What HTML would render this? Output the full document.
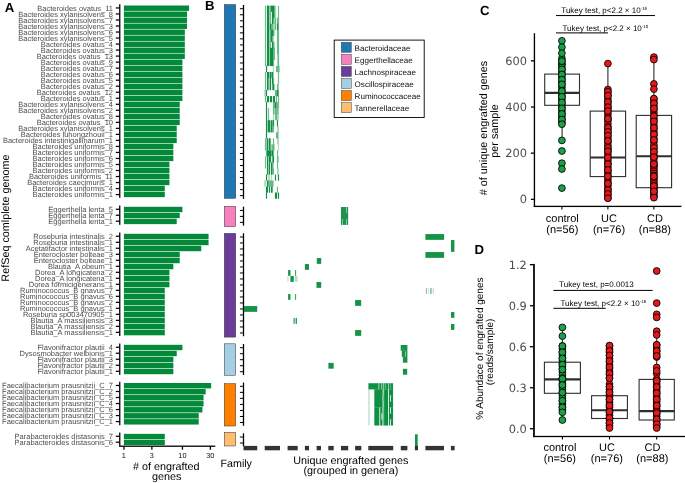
<!DOCTYPE html>
<html lang="en">
<head>
<meta charset="utf-8">
<title>Engrafted genes figure</title>
<style>
html,body{margin:0;padding:0;background:#fff;}
body{width:685px;height:483px;overflow:hidden;font-family:"Liberation Sans", Arial, Helvetica, sans-serif;}
svg{display:block;}
text{font-family:"Liberation Sans", Arial, Helvetica, sans-serif;text-rendering:geometricPrecision;}
</style>
</head>
<body>
<svg width="685" height="483" viewBox="0 0 685 483">
<rect x="0" y="0" width="685" height="483" fill="#ffffff"/>
<g font-family='"Liberation Sans", Arial, Helvetica, sans-serif'>
<rect x="119.1" y="4.20" width="1.3" height="193.66" fill="#000"/>
<rect x="123.9" y="5.50" width="65.17" height="5.41" fill="#02893a"/>
<rect x="115.8" y="7.33" width="3.6" height="1.25" fill="#000"/>
<text x="113.0" y="10.80" font-size="7.5" fill="#4d4d4d" text-anchor="end">Bacteroides ovatus_11</text>
<rect x="123.9" y="11.51" width="63.13" height="5.41" fill="#02893a"/>
<rect x="115.8" y="13.35" width="3.6" height="1.25" fill="#000"/>
<text x="113.0" y="16.81" font-size="7.5" fill="#4d4d4d" text-anchor="end">Bacteroides xylanisolvens_8</text>
<rect x="123.9" y="17.52" width="63.13" height="5.41" fill="#02893a"/>
<rect x="115.8" y="19.37" width="3.6" height="1.25" fill="#000"/>
<text x="113.0" y="22.82" font-size="7.5" fill="#4d4d4d" text-anchor="end">Bacteroides xylanisolvens_7</text>
<rect x="123.9" y="23.52" width="63.13" height="5.41" fill="#02893a"/>
<rect x="115.8" y="25.39" width="3.6" height="1.25" fill="#000"/>
<text x="113.0" y="28.83" font-size="7.5" fill="#4d4d4d" text-anchor="end">Bacteroides xylanisolvens_3</text>
<rect x="123.9" y="29.53" width="60.92" height="5.41" fill="#02893a"/>
<rect x="115.8" y="31.41" width="3.6" height="1.25" fill="#000"/>
<text x="113.0" y="34.84" font-size="7.5" fill="#4d4d4d" text-anchor="end">Bacteroides xylanisolvens_6</text>
<rect x="123.9" y="35.54" width="60.92" height="5.41" fill="#02893a"/>
<rect x="115.8" y="37.43" width="3.6" height="1.25" fill="#000"/>
<text x="113.0" y="40.84" font-size="7.5" fill="#4d4d4d" text-anchor="end">Bacteroides xylanisolvens_5</text>
<rect x="123.9" y="41.55" width="60.92" height="5.41" fill="#02893a"/>
<rect x="115.8" y="43.45" width="3.6" height="1.25" fill="#000"/>
<text x="113.0" y="46.85" font-size="7.5" fill="#4d4d4d" text-anchor="end">Bacteroides ovatus_4</text>
<rect x="123.9" y="47.56" width="60.92" height="5.41" fill="#02893a"/>
<rect x="115.8" y="49.47" width="3.6" height="1.25" fill="#000"/>
<text x="113.0" y="52.86" font-size="7.5" fill="#4d4d4d" text-anchor="end">Bacteroides ovatus_3</text>
<rect x="123.9" y="53.56" width="60.92" height="5.41" fill="#02893a"/>
<rect x="115.8" y="55.49" width="3.6" height="1.25" fill="#000"/>
<text x="113.0" y="58.87" font-size="7.5" fill="#4d4d4d" text-anchor="end">Bacteroides ovatus_13</text>
<rect x="123.9" y="59.57" width="58.50" height="5.41" fill="#02893a"/>
<rect x="115.8" y="61.51" width="3.6" height="1.25" fill="#000"/>
<text x="113.0" y="64.88" font-size="7.5" fill="#4d4d4d" text-anchor="end">Bacteroides ovatus_9</text>
<rect x="123.9" y="65.58" width="58.50" height="5.41" fill="#02893a"/>
<rect x="115.8" y="67.53" width="3.6" height="1.25" fill="#000"/>
<text x="113.0" y="70.88" font-size="7.5" fill="#4d4d4d" text-anchor="end">Bacteroides ovatus_7</text>
<rect x="123.9" y="71.59" width="58.50" height="5.41" fill="#02893a"/>
<rect x="115.8" y="73.55" width="3.6" height="1.25" fill="#000"/>
<text x="113.0" y="76.89" font-size="7.5" fill="#4d4d4d" text-anchor="end">Bacteroides ovatus_6</text>
<rect x="123.9" y="77.60" width="58.50" height="5.41" fill="#02893a"/>
<rect x="115.8" y="79.57" width="3.6" height="1.25" fill="#000"/>
<text x="113.0" y="82.90" font-size="7.5" fill="#4d4d4d" text-anchor="end">Bacteroides ovatus_5</text>
<rect x="123.9" y="83.60" width="58.50" height="5.41" fill="#02893a"/>
<rect x="115.8" y="85.59" width="3.6" height="1.25" fill="#000"/>
<text x="113.0" y="88.91" font-size="7.5" fill="#4d4d4d" text-anchor="end">Bacteroides ovatus_2</text>
<rect x="123.9" y="89.61" width="58.50" height="5.41" fill="#02893a"/>
<rect x="115.8" y="91.61" width="3.6" height="1.25" fill="#000"/>
<text x="113.0" y="94.92" font-size="7.5" fill="#4d4d4d" text-anchor="end">Bacteroides ovatus_12</text>
<rect x="123.9" y="95.62" width="58.50" height="5.41" fill="#02893a"/>
<rect x="115.8" y="97.63" width="3.6" height="1.25" fill="#000"/>
<text x="113.0" y="100.92" font-size="7.5" fill="#4d4d4d" text-anchor="end">Bacteroides ovatus_1</text>
<rect x="123.9" y="101.63" width="55.82" height="5.41" fill="#02893a"/>
<rect x="115.8" y="103.65" width="3.6" height="1.25" fill="#000"/>
<text x="113.0" y="106.93" font-size="7.5" fill="#4d4d4d" text-anchor="end">Bacteroides xylanisolvens_4</text>
<rect x="123.9" y="107.64" width="55.82" height="5.41" fill="#02893a"/>
<rect x="115.8" y="109.67" width="3.6" height="1.25" fill="#000"/>
<text x="113.0" y="112.94" font-size="7.5" fill="#4d4d4d" text-anchor="end">Bacteroides xylanisolvens_2</text>
<rect x="123.9" y="113.64" width="55.82" height="5.41" fill="#02893a"/>
<rect x="115.8" y="115.69" width="3.6" height="1.25" fill="#000"/>
<text x="113.0" y="118.95" font-size="7.5" fill="#4d4d4d" text-anchor="end">Bacteroides ovatus_8</text>
<rect x="123.9" y="119.65" width="55.82" height="5.41" fill="#02893a"/>
<rect x="115.8" y="121.71" width="3.6" height="1.25" fill="#000"/>
<text x="113.0" y="124.96" font-size="7.5" fill="#4d4d4d" text-anchor="end">Bacteroides ovatus_10</text>
<rect x="123.9" y="125.66" width="52.83" height="5.41" fill="#02893a"/>
<rect x="115.8" y="127.73" width="3.6" height="1.25" fill="#000"/>
<text x="113.0" y="130.96" font-size="7.5" fill="#4d4d4d" text-anchor="end">Bacteroides xylanisolvens_1</text>
<rect x="123.9" y="131.67" width="52.83" height="5.41" fill="#02893a"/>
<rect x="115.8" y="133.75" width="3.6" height="1.25" fill="#000"/>
<text x="113.0" y="136.97" font-size="7.5" fill="#4d4d4d" text-anchor="end">Bacteroides luhongzhouii_1</text>
<rect x="123.9" y="137.68" width="52.83" height="5.41" fill="#02893a"/>
<rect x="115.8" y="139.77" width="3.6" height="1.25" fill="#000"/>
<text x="113.0" y="142.98" font-size="7.5" fill="#4d4d4d" text-anchor="end">Bacteroides intestinigallinarum_1</text>
<rect x="123.9" y="143.68" width="49.44" height="5.41" fill="#02893a"/>
<rect x="115.8" y="145.79" width="3.6" height="1.25" fill="#000"/>
<text x="113.0" y="148.99" font-size="7.5" fill="#4d4d4d" text-anchor="end">Bacteroides uniformis_8</text>
<rect x="123.9" y="149.69" width="49.44" height="5.41" fill="#02893a"/>
<rect x="115.8" y="151.81" width="3.6" height="1.25" fill="#000"/>
<text x="113.0" y="155.00" font-size="7.5" fill="#4d4d4d" text-anchor="end">Bacteroides uniformis_7</text>
<rect x="123.9" y="155.70" width="49.44" height="5.41" fill="#02893a"/>
<rect x="115.8" y="157.83" width="3.6" height="1.25" fill="#000"/>
<text x="113.0" y="161.00" font-size="7.5" fill="#4d4d4d" text-anchor="end">Bacteroides uniformis_6</text>
<rect x="123.9" y="161.71" width="45.52" height="5.41" fill="#02893a"/>
<rect x="115.8" y="163.85" width="3.6" height="1.25" fill="#000"/>
<text x="113.0" y="167.01" font-size="7.5" fill="#4d4d4d" text-anchor="end">Bacteroides uniformis_5</text>
<rect x="123.9" y="167.72" width="45.52" height="5.41" fill="#02893a"/>
<rect x="115.8" y="169.87" width="3.6" height="1.25" fill="#000"/>
<text x="113.0" y="173.02" font-size="7.5" fill="#4d4d4d" text-anchor="end">Bacteroides uniformis_2</text>
<rect x="123.9" y="173.72" width="45.52" height="5.41" fill="#02893a"/>
<rect x="115.8" y="175.89" width="3.6" height="1.25" fill="#000"/>
<text x="113.0" y="179.03" font-size="7.5" fill="#4d4d4d" text-anchor="end">Bacteroides uniformis_11</text>
<rect x="123.9" y="179.73" width="45.52" height="5.41" fill="#02893a"/>
<rect x="115.8" y="181.91" width="3.6" height="1.25" fill="#000"/>
<text x="113.0" y="185.04" font-size="7.5" fill="#4d4d4d" text-anchor="end">Bacteroides caecimuris_1</text>
<rect x="123.9" y="185.74" width="40.89" height="5.41" fill="#02893a"/>
<rect x="115.8" y="187.93" width="3.6" height="1.25" fill="#000"/>
<text x="113.0" y="191.04" font-size="7.5" fill="#4d4d4d" text-anchor="end">Bacteroides uniformis_4</text>
<rect x="123.9" y="191.75" width="40.89" height="5.41" fill="#02893a"/>
<rect x="115.8" y="193.95" width="3.6" height="1.25" fill="#000"/>
<text x="113.0" y="197.05" font-size="7.5" fill="#4d4d4d" text-anchor="end">Bacteroides uniformis_1</text>
<rect x="119.1" y="205.50" width="1.3" height="19.34" fill="#000"/>
<rect x="123.9" y="206.80" width="58.50" height="5.38" fill="#02893a"/>
<rect x="115.8" y="208.62" width="3.6" height="1.25" fill="#000"/>
<text x="113.0" y="212.09" font-size="7.5" fill="#4d4d4d" text-anchor="end">Eggerthella lenta_5</text>
<rect x="123.9" y="212.78" width="55.82" height="5.38" fill="#02893a"/>
<rect x="115.8" y="214.60" width="3.6" height="1.25" fill="#000"/>
<text x="113.0" y="218.07" font-size="7.5" fill="#4d4d4d" text-anchor="end">Eggerthella lenta_7</text>
<rect x="123.9" y="218.76" width="52.83" height="5.38" fill="#02893a"/>
<rect x="115.8" y="220.58" width="3.6" height="1.25" fill="#000"/>
<text x="113.0" y="224.05" font-size="7.5" fill="#4d4d4d" text-anchor="end">Eggerthella lenta_1</text>
<rect x="119.1" y="232.50" width="1.3" height="103.50" fill="#000"/>
<rect x="123.9" y="233.80" width="84.66" height="5.41" fill="#02893a"/>
<rect x="115.8" y="235.63" width="3.6" height="1.25" fill="#000"/>
<text x="113.0" y="239.10" font-size="7.5" fill="#4d4d4d" text-anchor="end">Roseburia intestinalis_2</text>
<rect x="123.9" y="239.81" width="84.66" height="5.41" fill="#02893a"/>
<rect x="115.8" y="241.64" width="3.6" height="1.25" fill="#000"/>
<text x="113.0" y="245.11" font-size="7.5" fill="#4d4d4d" text-anchor="end">Roseburia intestinalis_1</text>
<rect x="123.9" y="245.81" width="77.35" height="5.41" fill="#02893a"/>
<rect x="115.8" y="247.64" width="3.6" height="1.25" fill="#000"/>
<text x="113.0" y="251.11" font-size="7.5" fill="#4d4d4d" text-anchor="end">Acetatifactor intestinalis_1</text>
<rect x="123.9" y="251.82" width="55.82" height="5.41" fill="#02893a"/>
<rect x="115.8" y="253.65" width="3.6" height="1.25" fill="#000"/>
<text x="113.0" y="257.12" font-size="7.5" fill="#4d4d4d" text-anchor="end">Enterocloster bolteae_3</text>
<rect x="123.9" y="257.82" width="55.82" height="5.41" fill="#02893a"/>
<rect x="115.8" y="259.66" width="3.6" height="1.25" fill="#000"/>
<text x="113.0" y="263.13" font-size="7.5" fill="#4d4d4d" text-anchor="end">Enterocloster bolteae_1</text>
<rect x="123.9" y="263.83" width="49.44" height="5.41" fill="#02893a"/>
<rect x="115.8" y="265.66" width="3.6" height="1.25" fill="#000"/>
<text x="113.0" y="269.13" font-size="7.5" fill="#4d4d4d" text-anchor="end">Blautia_A obeum_1</text>
<rect x="123.9" y="269.84" width="45.52" height="5.41" fill="#02893a"/>
<rect x="115.8" y="271.67" width="3.6" height="1.25" fill="#000"/>
<text x="113.0" y="275.14" font-size="7.5" fill="#4d4d4d" text-anchor="end">Dorea_A longicatena_2</text>
<rect x="123.9" y="275.84" width="45.52" height="5.41" fill="#02893a"/>
<rect x="115.8" y="277.68" width="3.6" height="1.25" fill="#000"/>
<text x="113.0" y="281.15" font-size="7.5" fill="#4d4d4d" text-anchor="end">Dorea_A longicatena_1</text>
<rect x="123.9" y="281.85" width="45.52" height="5.41" fill="#02893a"/>
<rect x="115.8" y="283.68" width="3.6" height="1.25" fill="#000"/>
<text x="113.0" y="287.15" font-size="7.5" fill="#4d4d4d" text-anchor="end">Dorea formicigenerans_1</text>
<rect x="123.9" y="287.85" width="40.89" height="5.41" fill="#02893a"/>
<rect x="115.8" y="289.69" width="3.6" height="1.25" fill="#000"/>
<text x="113.0" y="293.16" font-size="7.5" fill="#4d4d4d" text-anchor="end">Ruminococcus_B gnavus_7</text>
<rect x="123.9" y="293.86" width="40.89" height="5.41" fill="#02893a"/>
<rect x="115.8" y="295.69" width="3.6" height="1.25" fill="#000"/>
<text x="113.0" y="299.16" font-size="7.5" fill="#4d4d4d" text-anchor="end">Ruminococcus_B gnavus_6</text>
<rect x="123.9" y="299.87" width="40.89" height="5.41" fill="#02893a"/>
<rect x="115.8" y="301.70" width="3.6" height="1.25" fill="#000"/>
<text x="113.0" y="305.17" font-size="7.5" fill="#4d4d4d" text-anchor="end">Ruminococcus_B gnavus_2</text>
<rect x="123.9" y="305.87" width="40.89" height="5.41" fill="#02893a"/>
<rect x="115.8" y="307.70" width="3.6" height="1.25" fill="#000"/>
<text x="113.0" y="311.18" font-size="7.5" fill="#4d4d4d" text-anchor="end">Ruminococcus_B gnavus_1</text>
<rect x="123.9" y="311.88" width="40.89" height="5.41" fill="#02893a"/>
<rect x="115.8" y="313.71" width="3.6" height="1.25" fill="#000"/>
<text x="113.0" y="317.18" font-size="7.5" fill="#4d4d4d" text-anchor="end">Roseburia sp003470905_1</text>
<rect x="123.9" y="317.88" width="40.89" height="5.41" fill="#02893a"/>
<rect x="115.8" y="319.72" width="3.6" height="1.25" fill="#000"/>
<text x="113.0" y="323.19" font-size="7.5" fill="#4d4d4d" text-anchor="end">Blautia_A massiliensis_3</text>
<rect x="123.9" y="323.89" width="40.89" height="5.41" fill="#02893a"/>
<rect x="115.8" y="325.72" width="3.6" height="1.25" fill="#000"/>
<text x="113.0" y="329.19" font-size="7.5" fill="#4d4d4d" text-anchor="end">Blautia_A massiliensis_2</text>
<rect x="123.9" y="329.90" width="40.89" height="5.41" fill="#02893a"/>
<rect x="115.8" y="331.73" width="3.6" height="1.25" fill="#000"/>
<text x="113.0" y="335.20" font-size="7.5" fill="#4d4d4d" text-anchor="end">Blautia_A massiliensis_1</text>
<rect x="119.1" y="343.50" width="1.3" height="31.40" fill="#000"/>
<rect x="123.9" y="344.80" width="58.50" height="5.40" fill="#02893a"/>
<rect x="115.8" y="346.63" width="3.6" height="1.25" fill="#000"/>
<text x="113.0" y="350.10" font-size="7.5" fill="#4d4d4d" text-anchor="end">Flavonifractor plautii_4</text>
<rect x="123.9" y="350.80" width="52.83" height="5.40" fill="#02893a"/>
<rect x="115.8" y="352.63" width="3.6" height="1.25" fill="#000"/>
<text x="113.0" y="356.10" font-size="7.5" fill="#4d4d4d" text-anchor="end">Dysosmobacter welbionis_1</text>
<rect x="123.9" y="356.80" width="49.44" height="5.40" fill="#02893a"/>
<rect x="115.8" y="358.63" width="3.6" height="1.25" fill="#000"/>
<text x="113.0" y="362.10" font-size="7.5" fill="#4d4d4d" text-anchor="end">Flavonifractor plautii_3</text>
<rect x="123.9" y="362.80" width="49.44" height="5.40" fill="#02893a"/>
<rect x="115.8" y="364.63" width="3.6" height="1.25" fill="#000"/>
<text x="113.0" y="368.10" font-size="7.5" fill="#4d4d4d" text-anchor="end">Flavonifractor plautii_2</text>
<rect x="123.9" y="368.80" width="49.44" height="5.40" fill="#02893a"/>
<rect x="115.8" y="370.63" width="3.6" height="1.25" fill="#000"/>
<text x="113.0" y="374.10" font-size="7.5" fill="#4d4d4d" text-anchor="end">Flavonifractor plautii_1</text>
<rect x="119.1" y="381.70" width="1.3" height="43.54" fill="#000"/>
<rect x="123.9" y="383.00" width="87.24" height="5.42" fill="#02893a"/>
<rect x="115.8" y="384.84" width="3.6" height="1.25" fill="#000"/>
<text x="113.0" y="388.31" font-size="7.5" fill="#4d4d4d" text-anchor="end">Faecalibacterium prausnitzii_C_7</text>
<rect x="123.9" y="389.02" width="81.78" height="5.42" fill="#02893a"/>
<rect x="115.8" y="390.86" width="3.6" height="1.25" fill="#000"/>
<text x="113.0" y="394.33" font-size="7.5" fill="#4d4d4d" text-anchor="end">Faecalibacterium prausnitzii_C_2</text>
<rect x="123.9" y="395.04" width="79.66" height="5.42" fill="#02893a"/>
<rect x="115.8" y="396.88" width="3.6" height="1.25" fill="#000"/>
<text x="113.0" y="400.35" font-size="7.5" fill="#4d4d4d" text-anchor="end">Faecalibacterium prausnitzii_C_5</text>
<rect x="123.9" y="401.06" width="79.66" height="5.42" fill="#02893a"/>
<rect x="115.8" y="402.90" width="3.6" height="1.25" fill="#000"/>
<text x="113.0" y="406.37" font-size="7.5" fill="#4d4d4d" text-anchor="end">Faecalibacterium prausnitzii_C_4</text>
<rect x="123.9" y="407.08" width="78.53" height="5.42" fill="#02893a"/>
<rect x="115.8" y="408.92" width="3.6" height="1.25" fill="#000"/>
<text x="113.0" y="412.39" font-size="7.5" fill="#4d4d4d" text-anchor="end">Faecalibacterium prausnitzii_C_6</text>
<rect x="123.9" y="413.10" width="74.81" height="5.42" fill="#02893a"/>
<rect x="115.8" y="414.94" width="3.6" height="1.25" fill="#000"/>
<text x="113.0" y="418.41" font-size="7.5" fill="#4d4d4d" text-anchor="end">Faecalibacterium prausnitzii_C_3</text>
<rect x="123.9" y="419.12" width="74.81" height="5.42" fill="#02893a"/>
<rect x="115.8" y="420.96" width="3.6" height="1.25" fill="#000"/>
<text x="113.0" y="424.43" font-size="7.5" fill="#4d4d4d" text-anchor="end">Faecalibacterium prausnitzii_C_1</text>
<rect x="119.1" y="432.55" width="1.3" height="13.26" fill="#000"/>
<rect x="123.9" y="433.85" width="40.89" height="5.33" fill="#02893a"/>
<rect x="115.8" y="435.64" width="3.6" height="1.25" fill="#000"/>
<text x="113.0" y="439.12" font-size="7.5" fill="#4d4d4d" text-anchor="end">Parabacteroides distasonis_7</text>
<rect x="123.9" y="439.78" width="40.89" height="5.33" fill="#02893a"/>
<rect x="115.8" y="441.57" width="3.6" height="1.25" fill="#000"/>
<text x="113.0" y="445.05" font-size="7.5" fill="#4d4d4d" text-anchor="end">Parabacteroides distasonis_6</text>
<rect x="119.1" y="445.55" width="96.2" height="1.3" fill="#000"/>
<rect x="123.30" y="446.2" width="1.3" height="3.5" fill="#000"/>
<text x="123.90" y="458.4" font-size="7.3" fill="#111" text-anchor="middle">1</text>
<rect x="151.21" y="446.2" width="1.3" height="3.5" fill="#000"/>
<text x="151.81" y="458.4" font-size="7.3" fill="#111" text-anchor="middle">3</text>
<rect x="181.80" y="446.2" width="1.3" height="3.5" fill="#000"/>
<text x="182.40" y="458.4" font-size="7.3" fill="#111" text-anchor="middle">10</text>
<rect x="209.71" y="446.2" width="1.3" height="3.5" fill="#000"/>
<text x="210.31" y="458.4" font-size="7.3" fill="#111" text-anchor="middle">30</text>
<text x="166.3" y="470.4" font-size="10.8" fill="#000" text-anchor="middle"># of engrafted</text>
<text x="166.7" y="480.1" font-size="10.8" fill="#000" text-anchor="middle">genes</text>
<text transform="translate(9.1,218) rotate(-90)" font-size="10.8" fill="#000" text-anchor="middle">RefSeq comlplete genome</text>
<text x="4.8" y="12.0" font-size="13.2" font-weight="bold" fill="#000">A</text>
<text x="205.0" y="9.9" font-size="13.2" font-weight="bold" fill="#000">B</text>
<rect x="224.3" y="4.60" width="11.4" height="193.70" fill="#1f78b4" stroke="#333" stroke-width="0.5"/>
<rect x="224.3" y="206.40" width="11.4" height="20.20" fill="#f781bf" stroke="#333" stroke-width="0.5"/>
<rect x="224.3" y="233.40" width="11.4" height="103.70" fill="#6a3d9a" stroke="#333" stroke-width="0.5"/>
<rect x="224.3" y="343.80" width="11.4" height="31.50" fill="#a6cee3" stroke="#333" stroke-width="0.5"/>
<rect x="224.3" y="383.70" width="11.4" height="42.30" fill="#ff7f00" stroke="#333" stroke-width="0.5"/>
<rect x="224.3" y="432.30" width="11.4" height="13.70" fill="#fdbf6f" stroke="#333" stroke-width="0.5"/>
<text x="220.5" y="467.4" font-size="10.7" fill="#000">Family</text>
<rect x="242.85" y="5.00" width="1.3" height="193.96" fill="#000"/>
<rect x="239.9" y="8.21" width="3.1" height="1.0" fill="#000"/>
<rect x="239.9" y="14.25" width="3.1" height="1.0" fill="#000"/>
<rect x="239.9" y="20.28" width="3.1" height="1.0" fill="#000"/>
<rect x="239.9" y="26.30" width="3.1" height="1.0" fill="#000"/>
<rect x="239.9" y="32.34" width="3.1" height="1.0" fill="#000"/>
<rect x="239.9" y="38.37" width="3.1" height="1.0" fill="#000"/>
<rect x="239.9" y="44.40" width="3.1" height="1.0" fill="#000"/>
<rect x="239.9" y="50.43" width="3.1" height="1.0" fill="#000"/>
<rect x="239.9" y="56.46" width="3.1" height="1.0" fill="#000"/>
<rect x="239.9" y="62.49" width="3.1" height="1.0" fill="#000"/>
<rect x="239.9" y="68.52" width="3.1" height="1.0" fill="#000"/>
<rect x="239.9" y="74.55" width="3.1" height="1.0" fill="#000"/>
<rect x="239.9" y="80.58" width="3.1" height="1.0" fill="#000"/>
<rect x="239.9" y="86.61" width="3.1" height="1.0" fill="#000"/>
<rect x="239.9" y="92.64" width="3.1" height="1.0" fill="#000"/>
<rect x="239.9" y="98.67" width="3.1" height="1.0" fill="#000"/>
<rect x="239.9" y="104.70" width="3.1" height="1.0" fill="#000"/>
<rect x="239.9" y="110.73" width="3.1" height="1.0" fill="#000"/>
<rect x="239.9" y="116.76" width="3.1" height="1.0" fill="#000"/>
<rect x="239.9" y="122.79" width="3.1" height="1.0" fill="#000"/>
<rect x="239.9" y="128.81" width="3.1" height="1.0" fill="#000"/>
<rect x="239.9" y="134.84" width="3.1" height="1.0" fill="#000"/>
<rect x="239.9" y="140.88" width="3.1" height="1.0" fill="#000"/>
<rect x="239.9" y="146.91" width="3.1" height="1.0" fill="#000"/>
<rect x="239.9" y="152.94" width="3.1" height="1.0" fill="#000"/>
<rect x="239.9" y="158.97" width="3.1" height="1.0" fill="#000"/>
<rect x="239.9" y="165.00" width="3.1" height="1.0" fill="#000"/>
<rect x="239.9" y="171.03" width="3.1" height="1.0" fill="#000"/>
<rect x="239.9" y="177.06" width="3.1" height="1.0" fill="#000"/>
<rect x="239.9" y="183.09" width="3.1" height="1.0" fill="#000"/>
<rect x="239.9" y="189.12" width="3.1" height="1.0" fill="#000"/>
<rect x="239.9" y="195.15" width="3.1" height="1.0" fill="#000"/>
<rect x="242.85" y="206.70" width="1.3" height="19.00" fill="#000"/>
<rect x="239.9" y="209.90" width="3.1" height="1.0" fill="#000"/>
<rect x="239.9" y="215.90" width="3.1" height="1.0" fill="#000"/>
<rect x="239.9" y="221.90" width="3.1" height="1.0" fill="#000"/>
<rect x="242.85" y="233.25" width="1.3" height="103.00" fill="#000"/>
<rect x="239.9" y="236.45" width="3.1" height="1.0" fill="#000"/>
<rect x="239.9" y="242.45" width="3.1" height="1.0" fill="#000"/>
<rect x="239.9" y="248.45" width="3.1" height="1.0" fill="#000"/>
<rect x="239.9" y="254.45" width="3.1" height="1.0" fill="#000"/>
<rect x="239.9" y="260.45" width="3.1" height="1.0" fill="#000"/>
<rect x="239.9" y="266.45" width="3.1" height="1.0" fill="#000"/>
<rect x="239.9" y="272.45" width="3.1" height="1.0" fill="#000"/>
<rect x="239.9" y="278.45" width="3.1" height="1.0" fill="#000"/>
<rect x="239.9" y="284.45" width="3.1" height="1.0" fill="#000"/>
<rect x="239.9" y="290.45" width="3.1" height="1.0" fill="#000"/>
<rect x="239.9" y="296.45" width="3.1" height="1.0" fill="#000"/>
<rect x="239.9" y="302.45" width="3.1" height="1.0" fill="#000"/>
<rect x="239.9" y="308.45" width="3.1" height="1.0" fill="#000"/>
<rect x="239.9" y="314.45" width="3.1" height="1.0" fill="#000"/>
<rect x="239.9" y="320.45" width="3.1" height="1.0" fill="#000"/>
<rect x="239.9" y="326.45" width="3.1" height="1.0" fill="#000"/>
<rect x="239.9" y="332.45" width="3.1" height="1.0" fill="#000"/>
<rect x="242.85" y="344.00" width="1.3" height="31.00" fill="#000"/>
<rect x="239.9" y="347.20" width="3.1" height="1.0" fill="#000"/>
<rect x="239.9" y="353.20" width="3.1" height="1.0" fill="#000"/>
<rect x="239.9" y="359.20" width="3.1" height="1.0" fill="#000"/>
<rect x="239.9" y="365.20" width="3.1" height="1.0" fill="#000"/>
<rect x="239.9" y="371.20" width="3.1" height="1.0" fill="#000"/>
<rect x="242.85" y="382.60" width="1.3" height="43.21" fill="#000"/>
<rect x="239.9" y="385.81" width="3.1" height="1.0" fill="#000"/>
<rect x="239.9" y="391.85" width="3.1" height="1.0" fill="#000"/>
<rect x="239.9" y="397.88" width="3.1" height="1.0" fill="#000"/>
<rect x="239.9" y="403.91" width="3.1" height="1.0" fill="#000"/>
<rect x="239.9" y="409.94" width="3.1" height="1.0" fill="#000"/>
<rect x="239.9" y="415.97" width="3.1" height="1.0" fill="#000"/>
<rect x="239.9" y="422.00" width="3.1" height="1.0" fill="#000"/>
<rect x="242.85" y="433.30" width="1.3" height="13.00" fill="#000"/>
<rect x="239.9" y="436.50" width="3.1" height="1.0" fill="#000"/>
<rect x="239.9" y="442.50" width="3.1" height="1.0" fill="#000"/>
<rect x="264.92" y="90.04" width="1.16" height="6.19" fill="#0f8f42" fill-opacity="0.33"/>
<rect x="264.92" y="180.49" width="1.16" height="6.19" fill="#0f8f42" fill-opacity="0.33"/>
<rect x="265.92" y="138.28" width="1.16" height="12.22" fill="#0f8f42" fill-opacity="0.33"/>
<rect x="266.92" y="120.19" width="1.16" height="12.22" fill="#0f8f42" fill-opacity="0.33"/>
<rect x="267.92" y="138.28" width="1.16" height="12.22" fill="#0f8f42" fill-opacity="0.33"/>
<rect x="267.92" y="156.37" width="1.16" height="18.25" fill="#0f8f42" fill-opacity="0.33"/>
<rect x="267.92" y="174.46" width="2.16" height="6.19" fill="#0f8f42" fill-opacity="0.33"/>
<rect x="268.92" y="5.62" width="1.16" height="60.46" fill="#0f8f42" fill-opacity="0.33"/>
<rect x="268.92" y="71.95" width="1.16" height="18.25" fill="#0f8f42" fill-opacity="0.33"/>
<rect x="269.92" y="120.19" width="1.16" height="12.22" fill="#0f8f42" fill-opacity="0.33"/>
<rect x="270.92" y="144.31" width="1.16" height="6.19" fill="#0f8f42" fill-opacity="0.33"/>
<rect x="270.92" y="174.46" width="1.16" height="6.19" fill="#0f8f42" fill-opacity="0.33"/>
<rect x="272.92" y="35.77" width="1.16" height="6.19" fill="#0f8f42" fill-opacity="0.33"/>
<rect x="272.92" y="65.92" width="1.16" height="12.22" fill="#0f8f42" fill-opacity="0.33"/>
<rect x="272.92" y="114.16" width="1.16" height="6.19" fill="#0f8f42" fill-opacity="0.33"/>
<rect x="272.92" y="162.40" width="1.16" height="6.19" fill="#0f8f42" fill-opacity="0.33"/>
<rect x="272.92" y="180.49" width="1.16" height="6.19" fill="#0f8f42" fill-opacity="0.33"/>
<rect x="272.92" y="23.71" width="2.16" height="6.19" fill="#0f8f42" fill-opacity="0.33"/>
<rect x="273.92" y="17.68" width="1.16" height="6.19" fill="#0f8f42" fill-opacity="0.33"/>
<rect x="273.92" y="29.74" width="1.16" height="6.19" fill="#0f8f42" fill-opacity="0.33"/>
<rect x="273.92" y="41.80" width="1.16" height="6.19" fill="#0f8f42" fill-opacity="0.33"/>
<rect x="273.92" y="84.01" width="1.16" height="6.19" fill="#0f8f42" fill-opacity="0.33"/>
<rect x="273.92" y="108.13" width="1.16" height="6.19" fill="#0f8f42" fill-opacity="0.33"/>
<rect x="273.92" y="144.31" width="1.16" height="6.19" fill="#0f8f42" fill-opacity="0.33"/>
<rect x="274.92" y="5.62" width="1.16" height="12.22" fill="#0f8f42" fill-opacity="0.33"/>
<rect x="276.92" y="53.86" width="1.16" height="12.22" fill="#0f8f42" fill-opacity="0.33"/>
<rect x="276.92" y="114.16" width="2.16" height="6.19" fill="#0f8f42" fill-opacity="0.33"/>
<rect x="276.92" y="126.22" width="2.16" height="6.19" fill="#0f8f42" fill-opacity="0.33"/>
<rect x="276.92" y="138.28" width="2.16" height="6.19" fill="#0f8f42" fill-opacity="0.33"/>
<rect x="276.92" y="168.43" width="2.16" height="6.19" fill="#0f8f42" fill-opacity="0.33"/>
<rect x="277.92" y="84.01" width="1.16" height="6.19" fill="#0f8f42" fill-opacity="0.33"/>
<rect x="277.92" y="108.13" width="1.16" height="6.19" fill="#0f8f42" fill-opacity="0.33"/>
<rect x="277.92" y="132.25" width="1.16" height="6.19" fill="#0f8f42" fill-opacity="0.33"/>
<rect x="277.92" y="144.31" width="1.16" height="6.19" fill="#0f8f42" fill-opacity="0.33"/>
<rect x="277.92" y="156.37" width="1.16" height="6.19" fill="#0f8f42" fill-opacity="0.33"/>
<rect x="278.92" y="65.92" width="1.16" height="6.19" fill="#0f8f42" fill-opacity="0.33"/>
<rect x="264.92" y="5.62" width="1.16" height="60.46" fill="#0f8f42" fill-opacity="0.62"/>
<rect x="264.92" y="71.95" width="1.16" height="18.25" fill="#0f8f42" fill-opacity="0.62"/>
<rect x="264.92" y="96.07" width="1.16" height="6.19" fill="#0f8f42" fill-opacity="0.62"/>
<rect x="264.92" y="138.28" width="1.16" height="12.22" fill="#0f8f42" fill-opacity="0.62"/>
<rect x="264.92" y="156.37" width="1.16" height="12.22" fill="#0f8f42" fill-opacity="0.62"/>
<rect x="265.92" y="150.34" width="1.16" height="6.19" fill="#0f8f42" fill-opacity="0.62"/>
<rect x="267.92" y="77.98" width="1.16" height="12.22" fill="#0f8f42" fill-opacity="0.62"/>
<rect x="267.92" y="108.13" width="1.16" height="12.22" fill="#0f8f42" fill-opacity="0.62"/>
<rect x="267.92" y="180.49" width="5.16" height="6.19" fill="#0f8f42" fill-opacity="0.62"/>
<rect x="269.92" y="5.62" width="1.16" height="18.25" fill="#0f8f42" fill-opacity="0.62"/>
<rect x="269.92" y="29.74" width="1.16" height="18.25" fill="#0f8f42" fill-opacity="0.62"/>
<rect x="269.92" y="138.28" width="1.16" height="12.22" fill="#0f8f42" fill-opacity="0.62"/>
<rect x="270.92" y="71.95" width="1.16" height="6.19" fill="#0f8f42" fill-opacity="0.62"/>
<rect x="270.92" y="150.34" width="1.16" height="6.19" fill="#0f8f42" fill-opacity="0.62"/>
<rect x="270.92" y="23.71" width="2.16" height="6.19" fill="#0f8f42" fill-opacity="0.62"/>
<rect x="271.92" y="35.77" width="1.16" height="6.19" fill="#0f8f42" fill-opacity="0.62"/>
<rect x="271.92" y="84.01" width="1.16" height="6.19" fill="#0f8f42" fill-opacity="0.62"/>
<rect x="271.92" y="120.19" width="1.16" height="6.19" fill="#0f8f42" fill-opacity="0.62"/>
<rect x="271.92" y="156.37" width="1.16" height="12.22" fill="#0f8f42" fill-opacity="0.62"/>
<rect x="271.92" y="186.52" width="1.16" height="6.19" fill="#0f8f42" fill-opacity="0.62"/>
<rect x="271.92" y="126.22" width="2.16" height="6.19" fill="#0f8f42" fill-opacity="0.62"/>
<rect x="271.92" y="144.31" width="2.16" height="6.19" fill="#0f8f42" fill-opacity="0.62"/>
<rect x="271.92" y="168.43" width="2.16" height="6.19" fill="#0f8f42" fill-opacity="0.62"/>
<rect x="272.92" y="17.68" width="1.16" height="6.19" fill="#0f8f42" fill-opacity="0.62"/>
<rect x="272.92" y="29.74" width="1.16" height="6.19" fill="#0f8f42" fill-opacity="0.62"/>
<rect x="272.92" y="41.80" width="1.16" height="6.19" fill="#0f8f42" fill-opacity="0.62"/>
<rect x="272.92" y="59.89" width="1.16" height="6.19" fill="#0f8f42" fill-opacity="0.62"/>
<rect x="272.92" y="77.98" width="1.16" height="6.19" fill="#0f8f42" fill-opacity="0.62"/>
<rect x="272.92" y="108.13" width="1.16" height="6.19" fill="#0f8f42" fill-opacity="0.62"/>
<rect x="272.92" y="138.28" width="1.16" height="6.19" fill="#0f8f42" fill-opacity="0.62"/>
<rect x="272.92" y="150.34" width="1.16" height="6.19" fill="#0f8f42" fill-opacity="0.62"/>
<rect x="272.92" y="47.83" width="2.16" height="12.22" fill="#0f8f42" fill-opacity="0.62"/>
<rect x="272.92" y="102.10" width="2.16" height="6.19" fill="#0f8f42" fill-opacity="0.62"/>
<rect x="273.92" y="5.62" width="1.16" height="12.22" fill="#0f8f42" fill-opacity="0.62"/>
<rect x="274.92" y="17.68" width="1.16" height="12.22" fill="#0f8f42" fill-opacity="0.62"/>
<rect x="274.92" y="90.04" width="2.16" height="6.19" fill="#0f8f42" fill-opacity="0.62"/>
<rect x="274.92" y="114.16" width="2.16" height="6.19" fill="#0f8f42" fill-opacity="0.62"/>
<rect x="274.92" y="108.13" width="3.16" height="6.19" fill="#0f8f42" fill-opacity="0.62"/>
<rect x="275.92" y="96.07" width="1.16" height="6.19" fill="#0f8f42" fill-opacity="0.62"/>
<rect x="275.92" y="132.25" width="2.16" height="6.19" fill="#0f8f42" fill-opacity="0.62"/>
<rect x="275.92" y="65.92" width="3.16" height="6.19" fill="#0f8f42" fill-opacity="0.62"/>
<rect x="275.92" y="102.10" width="3.16" height="6.19" fill="#0f8f42" fill-opacity="0.62"/>
<rect x="276.92" y="84.01" width="1.16" height="6.19" fill="#0f8f42" fill-opacity="0.62"/>
<rect x="276.92" y="150.34" width="1.16" height="18.25" fill="#0f8f42" fill-opacity="0.62"/>
<rect x="276.92" y="186.52" width="1.16" height="6.19" fill="#0f8f42" fill-opacity="0.62"/>
<rect x="276.92" y="17.68" width="2.16" height="6.19" fill="#0f8f42" fill-opacity="0.62"/>
<rect x="276.92" y="29.74" width="2.16" height="24.28" fill="#0f8f42" fill-opacity="0.62"/>
<rect x="277.92" y="5.62" width="1.16" height="12.22" fill="#0f8f42" fill-opacity="0.62"/>
<rect x="277.92" y="23.71" width="1.16" height="6.19" fill="#0f8f42" fill-opacity="0.62"/>
<rect x="277.92" y="53.86" width="1.16" height="12.22" fill="#0f8f42" fill-opacity="0.62"/>
<rect x="277.92" y="71.95" width="1.16" height="12.22" fill="#0f8f42" fill-opacity="0.62"/>
<rect x="277.92" y="90.04" width="1.16" height="12.22" fill="#0f8f42" fill-opacity="0.62"/>
<rect x="265.92" y="65.92" width="1.16" height="6.19" fill="#0f8f42"/>
<rect x="265.92" y="90.04" width="1.16" height="6.19" fill="#0f8f42"/>
<rect x="265.92" y="102.10" width="1.16" height="36.34" fill="#0f8f42"/>
<rect x="265.92" y="174.46" width="1.16" height="6.19" fill="#0f8f42"/>
<rect x="265.92" y="192.55" width="1.16" height="6.19" fill="#0f8f42"/>
<rect x="265.92" y="186.52" width="2.16" height="6.19" fill="#0f8f42"/>
<rect x="266.92" y="77.98" width="1.16" height="12.22" fill="#0f8f42"/>
<rect x="266.92" y="138.28" width="1.16" height="12.22" fill="#0f8f42"/>
<rect x="266.92" y="156.37" width="1.16" height="18.25" fill="#0f8f42"/>
<rect x="266.92" y="180.49" width="1.16" height="6.19" fill="#0f8f42"/>
<rect x="266.92" y="5.62" width="2.16" height="60.46" fill="#0f8f42"/>
<rect x="266.92" y="71.95" width="2.16" height="6.19" fill="#0f8f42"/>
<rect x="266.92" y="96.07" width="2.16" height="6.19" fill="#0f8f42"/>
<rect x="266.92" y="150.34" width="4.16" height="6.19" fill="#0f8f42"/>
<rect x="267.92" y="120.19" width="2.16" height="12.22" fill="#0f8f42"/>
<rect x="268.92" y="138.28" width="1.16" height="12.22" fill="#0f8f42"/>
<rect x="268.92" y="162.40" width="1.16" height="12.22" fill="#0f8f42"/>
<rect x="268.92" y="186.52" width="1.16" height="6.19" fill="#0f8f42"/>
<rect x="268.92" y="156.37" width="2.16" height="6.19" fill="#0f8f42"/>
<rect x="269.92" y="23.71" width="1.16" height="6.19" fill="#0f8f42"/>
<rect x="269.92" y="71.95" width="1.16" height="18.25" fill="#0f8f42"/>
<rect x="269.92" y="96.07" width="2.16" height="6.19" fill="#0f8f42"/>
<rect x="269.92" y="47.83" width="3.16" height="18.25" fill="#0f8f42"/>
<rect x="270.92" y="35.77" width="1.16" height="6.19" fill="#0f8f42"/>
<rect x="270.92" y="120.19" width="1.16" height="12.22" fill="#0f8f42"/>
<rect x="270.92" y="162.40" width="1.16" height="12.22" fill="#0f8f42"/>
<rect x="270.92" y="186.52" width="1.16" height="6.19" fill="#0f8f42"/>
<rect x="270.92" y="29.74" width="2.16" height="6.19" fill="#0f8f42"/>
<rect x="270.92" y="5.62" width="3.16" height="6.19" fill="#0f8f42"/>
<rect x="271.92" y="17.68" width="1.16" height="6.19" fill="#0f8f42"/>
<rect x="271.92" y="41.80" width="1.16" height="6.19" fill="#0f8f42"/>
<rect x="271.92" y="71.95" width="1.16" height="12.22" fill="#0f8f42"/>
<rect x="271.92" y="150.34" width="1.16" height="6.19" fill="#0f8f42"/>
<rect x="271.92" y="11.65" width="2.16" height="6.19" fill="#0f8f42"/>
<rect x="272.92" y="84.01" width="1.16" height="6.19" fill="#0f8f42"/>
<rect x="272.92" y="120.19" width="1.16" height="6.19" fill="#0f8f42"/>
<rect x="272.92" y="156.37" width="1.16" height="6.19" fill="#0f8f42"/>
<rect x="272.92" y="96.07" width="2.16" height="6.19" fill="#0f8f42"/>
<rect x="274.92" y="102.10" width="1.16" height="6.19" fill="#0f8f42"/>
<rect x="274.92" y="174.46" width="1.16" height="6.19" fill="#0f8f42"/>
<rect x="274.92" y="192.55" width="2.16" height="6.19" fill="#0f8f42"/>
<rect x="276.92" y="23.71" width="1.16" height="6.19" fill="#0f8f42"/>
<rect x="276.92" y="90.04" width="1.16" height="6.19" fill="#0f8f42"/>
<rect x="276.92" y="120.19" width="1.16" height="6.19" fill="#0f8f42"/>
<rect x="277.92" y="174.46" width="1.16" height="6.19" fill="#0f8f42"/>
<rect x="277.92" y="192.55" width="1.16" height="6.19" fill="#0f8f42"/>
<rect x="263.90" y="90.12" width="1.00" height="6.03" fill="#0f8f42" fill-opacity="0.3"/>
<rect x="263.90" y="180.57" width="1.00" height="6.03" fill="#0f8f42" fill-opacity="0.3"/>
<rect x="341.00" y="207.00" width="7.10" height="17.90" fill="#0f8f42" fill-opacity="0.95"/>
<rect x="346.3" y="207" width="0.6" height="6" fill="#fff" fill-opacity="0.8"/>
<rect x="346.3" y="219" width="0.6" height="6" fill="#fff" fill-opacity="0.8"/>
<rect x="342.1" y="219" width="0.6" height="6" fill="#fff" fill-opacity="0.8"/>
<rect x="425.40" y="234.05" width="18.70" height="5.80" fill="#0f8f42" fill-opacity="0.97"/>
<rect x="451.00" y="240.05" width="3.40" height="11.80" fill="#0f8f42" fill-opacity="0.97"/>
<rect x="425.40" y="252.05" width="18.70" height="5.80" fill="#0f8f42" fill-opacity="0.97"/>
<rect x="316.80" y="258.05" width="4.40" height="5.80" fill="#0f8f42" fill-opacity="0.97"/>
<rect x="304.90" y="264.05" width="4.10" height="5.80" fill="#0f8f42" fill-opacity="0.97"/>
<rect x="288.10" y="270.05" width="2.10" height="5.80" fill="#0f8f42" fill-opacity="0.97"/>
<rect x="290.20" y="270.05" width="0.60" height="5.80" fill="#0f8f42" fill-opacity="0.5"/>
<rect x="295.10" y="270.05" width="1.00" height="5.80" fill="#0f8f42" fill-opacity="0.9"/>
<rect x="287.50" y="276.05" width="0.80" height="5.80" fill="#0f8f42" fill-opacity="0.35"/>
<rect x="290.40" y="276.05" width="3.40" height="5.80" fill="#0f8f42" fill-opacity="0.97"/>
<rect x="295.50" y="276.05" width="0.90" height="5.80" fill="#0f8f42" fill-opacity="0.6"/>
<rect x="296.90" y="276.05" width="0.80" height="5.80" fill="#0f8f42" fill-opacity="0.3"/>
<rect x="315.90" y="282.05" width="1.10" height="5.80" fill="#0f8f42" fill-opacity="0.5"/>
<rect x="317.00" y="282.05" width="4.20" height="5.80" fill="#0f8f42" fill-opacity="0.97"/>
<rect x="425.90" y="288.05" width="1.10" height="5.80" fill="#0f8f42" fill-opacity="0.5"/>
<rect x="428.00" y="288.05" width="0.70" height="5.80" fill="#0f8f42" fill-opacity="0.3"/>
<rect x="430.30" y="288.05" width="1.30" height="5.80" fill="#0f8f42" fill-opacity="0.65"/>
<rect x="432.80" y="288.05" width="0.90" height="5.80" fill="#0f8f42" fill-opacity="0.4"/>
<rect x="288.10" y="294.05" width="2.10" height="5.80" fill="#0f8f42" fill-opacity="0.97"/>
<rect x="290.20" y="294.05" width="0.60" height="5.80" fill="#0f8f42" fill-opacity="0.5"/>
<rect x="295.10" y="294.05" width="1.00" height="5.80" fill="#0f8f42" fill-opacity="0.9"/>
<rect x="355.10" y="300.05" width="6.10" height="5.80" fill="#0f8f42" fill-opacity="0.97"/>
<rect x="243.90" y="306.05" width="13.30" height="5.80" fill="#0f8f42" fill-opacity="0.97"/>
<rect x="451.00" y="312.05" width="3.40" height="5.80" fill="#0f8f42" fill-opacity="0.97"/>
<rect x="293.50" y="318.05" width="1.20" height="5.80" fill="#0f8f42" fill-opacity="0.9"/>
<rect x="295.60" y="318.05" width="1.40" height="5.80" fill="#0f8f42" fill-opacity="0.9"/>
<rect x="451.00" y="324.05" width="3.40" height="5.80" fill="#0f8f42" fill-opacity="0.97"/>
<rect x="355.10" y="330.05" width="6.10" height="5.80" fill="#0f8f42" fill-opacity="0.97"/>
<rect x="400.70" y="345.00" width="6.70" height="5.80" fill="#0f8f42" fill-opacity="0.97"/>
<rect x="401.80" y="350.70" width="5.60" height="6.20" fill="#0f8f42" fill-opacity="0.97"/>
<rect x="405.0" y="351.5" width="0.6" height="5.2" fill="#fff" fill-opacity="0.8"/>
<rect x="402.90" y="356.80" width="4.50" height="5.90" fill="#0f8f42" fill-opacity="0.97"/>
<rect x="328.40" y="362.90" width="5.30" height="5.80" fill="#0f8f42" fill-opacity="0.97"/>
<rect x="402.90" y="368.80" width="4.30" height="5.90" fill="#0f8f42" fill-opacity="0.97"/>
<rect x="368.42" y="389.24" width="1.14" height="36.28" fill="#0f8f42" fill-opacity="0.33"/>
<rect x="378.22" y="383.22" width="1.14" height="6.18" fill="#0f8f42" fill-opacity="0.33"/>
<rect x="381.16" y="383.22" width="1.14" height="6.18" fill="#0f8f42" fill-opacity="0.33"/>
<rect x="381.16" y="413.32" width="2.12" height="6.18" fill="#0f8f42" fill-opacity="0.33"/>
<rect x="382.14" y="395.26" width="1.14" height="6.18" fill="#0f8f42" fill-opacity="0.33"/>
<rect x="382.14" y="407.30" width="1.14" height="6.18" fill="#0f8f42" fill-opacity="0.33"/>
<rect x="382.14" y="419.34" width="1.14" height="6.18" fill="#0f8f42" fill-opacity="0.33"/>
<rect x="383.12" y="383.22" width="1.14" height="12.20" fill="#0f8f42" fill-opacity="0.33"/>
<rect x="383.12" y="401.28" width="1.14" height="6.18" fill="#0f8f42" fill-opacity="0.33"/>
<rect x="388.02" y="383.22" width="1.14" height="6.18" fill="#0f8f42" fill-opacity="0.33"/>
<rect x="382.14" y="389.24" width="1.14" height="6.18" fill="#0f8f42" fill-opacity="0.62"/>
<rect x="382.14" y="401.28" width="1.14" height="6.18" fill="#0f8f42" fill-opacity="0.62"/>
<rect x="383.12" y="395.26" width="1.14" height="6.18" fill="#0f8f42" fill-opacity="0.62"/>
<rect x="383.12" y="407.30" width="1.14" height="18.22" fill="#0f8f42" fill-opacity="0.62"/>
<rect x="385.08" y="383.22" width="1.14" height="6.18" fill="#0f8f42" fill-opacity="0.62"/>
<rect x="389.98" y="383.22" width="1.14" height="6.18" fill="#0f8f42" fill-opacity="0.62"/>
<rect x="368.42" y="383.22" width="9.96" height="6.18" fill="#0f8f42"/>
<rect x="374.30" y="407.30" width="5.06" height="18.22" fill="#0f8f42"/>
<rect x="374.30" y="389.24" width="8.00" height="18.22" fill="#0f8f42"/>
<rect x="379.20" y="383.22" width="2.12" height="6.18" fill="#0f8f42"/>
<rect x="380.18" y="413.32" width="1.14" height="6.18" fill="#0f8f42"/>
<rect x="380.18" y="407.30" width="2.12" height="6.18" fill="#0f8f42"/>
<rect x="380.18" y="419.34" width="2.12" height="6.18" fill="#0f8f42"/>
<rect x="382.14" y="383.22" width="1.14" height="6.18" fill="#0f8f42"/>
<rect x="384.10" y="383.22" width="1.14" height="6.18" fill="#0f8f42"/>
<rect x="384.10" y="389.24" width="4.08" height="36.28" fill="#0f8f42"/>
<rect x="386.06" y="383.22" width="2.12" height="6.18" fill="#0f8f42"/>
<rect x="389.00" y="383.22" width="1.14" height="6.18" fill="#0f8f42"/>
<rect x="389.00" y="395.26" width="1.14" height="6.18" fill="#0f8f42"/>
<rect x="389.00" y="407.30" width="1.14" height="6.18" fill="#0f8f42"/>
<rect x="389.00" y="419.34" width="1.14" height="6.18" fill="#0f8f42"/>
<rect x="389.00" y="389.24" width="4.08" height="6.18" fill="#0f8f42"/>
<rect x="389.00" y="401.28" width="4.08" height="6.18" fill="#0f8f42"/>
<rect x="389.00" y="413.32" width="4.08" height="6.18" fill="#0f8f42"/>
<rect x="390.96" y="383.22" width="2.12" height="6.18" fill="#0f8f42"/>
<rect x="390.96" y="395.26" width="2.12" height="6.18" fill="#0f8f42"/>
<rect x="390.96" y="407.30" width="2.12" height="6.18" fill="#0f8f42"/>
<rect x="390.96" y="419.34" width="2.12" height="6.18" fill="#0f8f42"/>
<rect x="415.00" y="434.30" width="2.70" height="11.70" fill="#0f8f42" fill-opacity="0.97"/>
<rect x="243.5" y="445.9" width="13.70" height="4.4" fill="#333"/>
<rect x="264.7" y="445.9" width="15.30" height="4.4" fill="#333"/>
<rect x="287.6" y="445.9" width="10.10" height="4.4" fill="#333"/>
<rect x="304.9" y="445.9" width="4.10" height="4.4" fill="#333"/>
<rect x="316.6" y="445.9" width="4.40" height="4.4" fill="#333"/>
<rect x="328.3" y="445.9" width="5.40" height="4.4" fill="#333"/>
<rect x="341.0" y="445.9" width="7.20" height="4.4" fill="#333"/>
<rect x="355.1" y="445.9" width="6.20" height="4.4" fill="#333"/>
<rect x="368.3" y="445.9" width="24.90" height="4.4" fill="#333"/>
<rect x="400.8" y="445.9" width="6.60" height="4.4" fill="#333"/>
<rect x="414.9" y="445.9" width="3.10" height="4.4" fill="#333"/>
<rect x="425.4" y="445.9" width="18.60" height="4.4" fill="#333"/>
<rect x="450.9" y="445.9" width="3.70" height="4.4" fill="#333"/>
<text x="350.9" y="463.6" font-size="10.8" fill="#000" text-anchor="middle">Unique engrafted genes</text>
<text x="350.9" y="474.3" font-size="10.8" fill="#000" text-anchor="middle">(grouped in genera)</text>
<rect x="334.2" y="40.1" width="90" height="77.4" fill="#fff" stroke="#000" stroke-width="0.9"/>
<rect x="341.3" y="42.30" width="10" height="10" fill="#1f78b4" stroke="#333" stroke-width="0.45"/>
<text x="354.6" y="50.60" font-size="8.05" fill="#111">Bacteroidaceae</text>
<rect x="341.3" y="54.37" width="10" height="10" fill="#f781bf" stroke="#333" stroke-width="0.45"/>
<text x="354.6" y="62.67" font-size="8.05" fill="#111">Eggerthellaceae</text>
<rect x="341.3" y="66.44" width="10" height="10" fill="#6a3d9a" stroke="#333" stroke-width="0.45"/>
<text x="354.6" y="74.74" font-size="8.05" fill="#111">Lachnospiraceae</text>
<rect x="341.3" y="78.51" width="10" height="10" fill="#a6cee3" stroke="#333" stroke-width="0.45"/>
<text x="354.6" y="86.81" font-size="8.05" fill="#111">Oscillospiraceae</text>
<rect x="341.3" y="90.58" width="10" height="10" fill="#ff7f00" stroke="#333" stroke-width="0.45"/>
<text x="354.6" y="98.88" font-size="8.05" fill="#111">Ruminococcaceae</text>
<rect x="341.3" y="102.65" width="10" height="10" fill="#fdbf6f" stroke="#333" stroke-width="0.45"/>
<text x="354.6" y="110.95" font-size="8.05" fill="#111">Tannerellaceae</text>
<rect x="533.75" y="33.2" width="1.35" height="173.6" fill="#000"/>
<rect x="533.75" y="205.75" width="147.7" height="1.3" fill="#000"/>
<rect x="530.9" y="60.20" width="3" height="1.3" fill="#000"/>
<text x="527.1" y="64.7" font-size="11.4" fill="#4d4d4d" text-anchor="end" style="font-family:'DejaVu Sans',sans-serif">600</text>
<rect x="530.9" y="106.40" width="3" height="1.3" fill="#000"/>
<text x="527.1" y="110.89999999999999" font-size="11.4" fill="#4d4d4d" text-anchor="end" style="font-family:'DejaVu Sans',sans-serif">400</text>
<rect x="530.9" y="152.50" width="3" height="1.3" fill="#000"/>
<text x="527.1" y="157.0" font-size="11.4" fill="#4d4d4d" text-anchor="end" style="font-family:'DejaVu Sans',sans-serif">200</text>
<rect x="530.9" y="198.70" width="3" height="1.3" fill="#000"/>
<text x="527.1" y="203.2" font-size="11.4" fill="#4d4d4d" text-anchor="end" style="font-family:'DejaVu Sans',sans-serif">0</text>
<rect x="561.35" y="206.5" width="1.1" height="3" fill="#000"/>
<text x="562.3" y="222.2" font-size="11" fill="#000" text-anchor="middle">control</text>
<text x="562.3" y="232.6" font-size="11" fill="#000" text-anchor="middle">(n=56)</text>
<rect x="607.35" y="206.5" width="1.1" height="3" fill="#000"/>
<text x="609.0" y="222.2" font-size="11" fill="#000" text-anchor="middle">UC</text>
<text x="609.0" y="232.6" font-size="11" fill="#000" text-anchor="middle">(n=76)</text>
<rect x="653.35" y="206.5" width="1.1" height="3" fill="#000"/>
<text x="654.9" y="222.2" font-size="11" fill="#000" text-anchor="middle">CD</text>
<text x="654.9" y="232.6" font-size="11" fill="#000" text-anchor="middle">(n=88)</text>
<text transform="translate(487.0,128) rotate(-90)" font-size="10.8" fill="#000" text-anchor="middle"># of unique engrafted genes</text>
<text transform="translate(497.6,131) rotate(-90)" font-size="10.8" fill="#000" text-anchor="middle">per sample</text>
<text x="480.1" y="15.3" font-size="13.2" font-weight="bold" fill="#000">C</text>
<line x1="562.1" y1="40.8" x2="562.1" y2="74.1" stroke="#2e2e2e" stroke-width="1.1"/>
<line x1="562.1" y1="105.3" x2="562.1" y2="140.4" stroke="#2e2e2e" stroke-width="1.1"/>
<rect x="544.7" y="74.1" width="34.8" height="31.20" fill="none" stroke="#2e2e2e" stroke-width="1.1"/>
<line x1="544.7" y1="92.9" x2="579.5" y2="92.9" stroke="#2e2e2e" stroke-width="2.1"/>
<line x1="607.9" y1="63.6" x2="607.9" y2="111.1" stroke="#2e2e2e" stroke-width="1.1"/>
<line x1="607.9" y1="176.6" x2="607.9" y2="198.3" stroke="#2e2e2e" stroke-width="1.1"/>
<rect x="590.1999999999999" y="111.1" width="35.4" height="65.50" fill="none" stroke="#2e2e2e" stroke-width="1.1"/>
<line x1="590.1999999999999" y1="157.5" x2="625.6" y2="157.5" stroke="#2e2e2e" stroke-width="2.1"/>
<line x1="653.9" y1="57.1" x2="653.9" y2="115.4" stroke="#2e2e2e" stroke-width="1.1"/>
<line x1="653.9" y1="187.7" x2="653.9" y2="198.5" stroke="#2e2e2e" stroke-width="1.1"/>
<rect x="636.1999999999999" y="115.4" width="35.4" height="72.30" fill="none" stroke="#2e2e2e" stroke-width="1.1"/>
<line x1="636.1999999999999" y1="156.2" x2="671.6" y2="156.2" stroke="#2e2e2e" stroke-width="2.1"/>
<circle cx="561.9" cy="64.2" r="3.4" fill="#1e9e48" stroke="#000" stroke-width="0.85"/>
<circle cx="561.9" cy="58.5" r="3.4" fill="#1e9e48" stroke="#000" stroke-width="0.85"/>
<circle cx="561.9" cy="61.4" r="3.4" fill="#1e9e48" stroke="#000" stroke-width="0.85"/>
<circle cx="561.9" cy="64.3" r="3.4" fill="#1e9e48" stroke="#000" stroke-width="0.85"/>
<circle cx="561.9" cy="67.2" r="3.4" fill="#1e9e48" stroke="#000" stroke-width="0.85"/>
<circle cx="561.9" cy="70.1" r="3.4" fill="#1e9e48" stroke="#000" stroke-width="0.85"/>
<circle cx="561.9" cy="73.0" r="3.4" fill="#1e9e48" stroke="#000" stroke-width="0.85"/>
<circle cx="561.9" cy="75.9" r="3.4" fill="#1e9e48" stroke="#000" stroke-width="0.85"/>
<circle cx="561.9" cy="78.8" r="3.4" fill="#1e9e48" stroke="#000" stroke-width="0.85"/>
<circle cx="561.9" cy="81.7" r="3.4" fill="#1e9e48" stroke="#000" stroke-width="0.85"/>
<circle cx="561.9" cy="84.6" r="3.4" fill="#1e9e48" stroke="#000" stroke-width="0.85"/>
<circle cx="561.9" cy="87.5" r="3.4" fill="#1e9e48" stroke="#000" stroke-width="0.85"/>
<circle cx="561.9" cy="90.4" r="3.4" fill="#1e9e48" stroke="#000" stroke-width="0.85"/>
<circle cx="561.9" cy="93.3" r="3.4" fill="#1e9e48" stroke="#000" stroke-width="0.85"/>
<circle cx="561.9" cy="96.2" r="3.4" fill="#1e9e48" stroke="#000" stroke-width="0.85"/>
<circle cx="561.9" cy="99.1" r="3.4" fill="#1e9e48" stroke="#000" stroke-width="0.85"/>
<circle cx="561.9" cy="102.0" r="3.4" fill="#1e9e48" stroke="#000" stroke-width="0.85"/>
<circle cx="561.9" cy="104.9" r="3.4" fill="#1e9e48" stroke="#000" stroke-width="0.85"/>
<circle cx="561.9" cy="107.8" r="3.4" fill="#1e9e48" stroke="#000" stroke-width="0.85"/>
<circle cx="561.9" cy="110.7" r="3.4" fill="#1e9e48" stroke="#000" stroke-width="0.85"/>
<circle cx="561.9" cy="113.6" r="3.4" fill="#1e9e48" stroke="#000" stroke-width="0.85"/>
<circle cx="561.9" cy="116.5" r="3.4" fill="#1e9e48" stroke="#000" stroke-width="0.85"/>
<circle cx="561.9" cy="119.4" r="3.4" fill="#1e9e48" stroke="#000" stroke-width="0.85"/>
<circle cx="561.9" cy="122.3" r="3.4" fill="#1e9e48" stroke="#000" stroke-width="0.85"/>
<circle cx="561.9" cy="40.8" r="3.4" fill="#1e9e48" stroke="#000" stroke-width="0.85"/>
<circle cx="561.9" cy="47.2" r="3.4" fill="#1e9e48" stroke="#000" stroke-width="0.85"/>
<circle cx="561.9" cy="53.2" r="3.4" fill="#1e9e48" stroke="#000" stroke-width="0.85"/>
<circle cx="561.9" cy="61.1" r="3.4" fill="#1e9e48" stroke="#000" stroke-width="0.85"/>
<circle cx="561.9" cy="69.3" r="3.4" fill="#1e9e48" stroke="#000" stroke-width="0.85"/>
<circle cx="561.9" cy="74.5" r="3.4" fill="#1e9e48" stroke="#000" stroke-width="0.85"/>
<circle cx="561.9" cy="79.7" r="3.4" fill="#1e9e48" stroke="#000" stroke-width="0.85"/>
<circle cx="561.9" cy="84.3" r="3.4" fill="#1e9e48" stroke="#000" stroke-width="0.85"/>
<circle cx="561.9" cy="91.1" r="3.4" fill="#1e9e48" stroke="#000" stroke-width="0.85"/>
<circle cx="561.9" cy="96.7" r="3.4" fill="#1e9e48" stroke="#000" stroke-width="0.85"/>
<circle cx="561.9" cy="102.5" r="3.4" fill="#1e9e48" stroke="#000" stroke-width="0.85"/>
<circle cx="561.9" cy="108.3" r="3.4" fill="#1e9e48" stroke="#000" stroke-width="0.85"/>
<circle cx="561.9" cy="113.9" r="3.4" fill="#1e9e48" stroke="#000" stroke-width="0.85"/>
<circle cx="561.9" cy="119.5" r="3.4" fill="#1e9e48" stroke="#000" stroke-width="0.85"/>
<circle cx="561.9" cy="124.2" r="3.4" fill="#1e9e48" stroke="#000" stroke-width="0.85"/>
<circle cx="561.9" cy="140.4" r="3.4" fill="#1e9e48" stroke="#000" stroke-width="0.85"/>
<circle cx="561.9" cy="151.0" r="3.4" fill="#1e9e48" stroke="#000" stroke-width="0.85"/>
<circle cx="561.9" cy="163.2" r="3.4" fill="#1e9e48" stroke="#000" stroke-width="0.85"/>
<circle cx="561.9" cy="169.0" r="3.4" fill="#1e9e48" stroke="#000" stroke-width="0.85"/>
<circle cx="561.9" cy="188.1" r="3.4" fill="#1e9e48" stroke="#000" stroke-width="0.85"/>
<circle cx="607.9" cy="89.5" r="3.4" fill="#e31a1c" stroke="#000" stroke-width="0.85"/>
<circle cx="607.9" cy="92.6" r="3.4" fill="#e31a1c" stroke="#000" stroke-width="0.85"/>
<circle cx="607.9" cy="95.7" r="3.4" fill="#e31a1c" stroke="#000" stroke-width="0.85"/>
<circle cx="607.9" cy="98.8" r="3.4" fill="#e31a1c" stroke="#000" stroke-width="0.85"/>
<circle cx="607.9" cy="101.9" r="3.4" fill="#e31a1c" stroke="#000" stroke-width="0.85"/>
<circle cx="607.9" cy="105.0" r="3.4" fill="#e31a1c" stroke="#000" stroke-width="0.85"/>
<circle cx="607.9" cy="108.1" r="3.4" fill="#e31a1c" stroke="#000" stroke-width="0.85"/>
<circle cx="607.9" cy="111.2" r="3.4" fill="#e31a1c" stroke="#000" stroke-width="0.85"/>
<circle cx="607.9" cy="114.3" r="3.4" fill="#e31a1c" stroke="#000" stroke-width="0.85"/>
<circle cx="607.9" cy="117.4" r="3.4" fill="#e31a1c" stroke="#000" stroke-width="0.85"/>
<circle cx="607.9" cy="120.5" r="3.4" fill="#e31a1c" stroke="#000" stroke-width="0.85"/>
<circle cx="607.9" cy="123.6" r="3.4" fill="#e31a1c" stroke="#000" stroke-width="0.85"/>
<circle cx="607.9" cy="126.7" r="3.4" fill="#e31a1c" stroke="#000" stroke-width="0.85"/>
<circle cx="607.9" cy="129.8" r="3.4" fill="#e31a1c" stroke="#000" stroke-width="0.85"/>
<circle cx="607.9" cy="132.9" r="3.4" fill="#e31a1c" stroke="#000" stroke-width="0.85"/>
<circle cx="607.9" cy="136.0" r="3.4" fill="#e31a1c" stroke="#000" stroke-width="0.85"/>
<circle cx="607.9" cy="139.1" r="3.4" fill="#e31a1c" stroke="#000" stroke-width="0.85"/>
<circle cx="607.9" cy="142.2" r="3.4" fill="#e31a1c" stroke="#000" stroke-width="0.85"/>
<circle cx="607.9" cy="145.3" r="3.4" fill="#e31a1c" stroke="#000" stroke-width="0.85"/>
<circle cx="607.9" cy="148.4" r="3.4" fill="#e31a1c" stroke="#000" stroke-width="0.85"/>
<circle cx="607.9" cy="151.5" r="3.4" fill="#e31a1c" stroke="#000" stroke-width="0.85"/>
<circle cx="607.9" cy="154.6" r="3.4" fill="#e31a1c" stroke="#000" stroke-width="0.85"/>
<circle cx="607.9" cy="157.7" r="3.4" fill="#e31a1c" stroke="#000" stroke-width="0.85"/>
<circle cx="607.9" cy="160.8" r="3.4" fill="#e31a1c" stroke="#000" stroke-width="0.85"/>
<circle cx="607.9" cy="163.9" r="3.4" fill="#e31a1c" stroke="#000" stroke-width="0.85"/>
<circle cx="607.9" cy="167.0" r="3.4" fill="#e31a1c" stroke="#000" stroke-width="0.85"/>
<circle cx="607.9" cy="170.1" r="3.4" fill="#e31a1c" stroke="#000" stroke-width="0.85"/>
<circle cx="607.9" cy="173.2" r="3.4" fill="#e31a1c" stroke="#000" stroke-width="0.85"/>
<circle cx="607.9" cy="176.3" r="3.4" fill="#e31a1c" stroke="#000" stroke-width="0.85"/>
<circle cx="607.9" cy="179.4" r="3.4" fill="#e31a1c" stroke="#000" stroke-width="0.85"/>
<circle cx="607.9" cy="182.5" r="3.4" fill="#e31a1c" stroke="#000" stroke-width="0.85"/>
<circle cx="607.9" cy="185.6" r="3.4" fill="#e31a1c" stroke="#000" stroke-width="0.85"/>
<circle cx="607.9" cy="188.7" r="3.4" fill="#e31a1c" stroke="#000" stroke-width="0.85"/>
<circle cx="607.9" cy="191.8" r="3.4" fill="#e31a1c" stroke="#000" stroke-width="0.85"/>
<circle cx="607.9" cy="194.9" r="3.4" fill="#e31a1c" stroke="#000" stroke-width="0.85"/>
<circle cx="607.9" cy="198.0" r="3.4" fill="#e31a1c" stroke="#000" stroke-width="0.85"/>
<circle cx="607.9" cy="63.6" r="3.4" fill="#e31a1c" stroke="#000" stroke-width="0.85"/>
<circle cx="607.9" cy="91.6" r="3.4" fill="#e31a1c" stroke="#000" stroke-width="0.85"/>
<circle cx="607.9" cy="95.5" r="3.4" fill="#e31a1c" stroke="#000" stroke-width="0.85"/>
<circle cx="607.9" cy="102.0" r="3.4" fill="#e31a1c" stroke="#000" stroke-width="0.85"/>
<circle cx="607.9" cy="107.2" r="3.4" fill="#e31a1c" stroke="#000" stroke-width="0.85"/>
<circle cx="607.9" cy="111.0" r="3.4" fill="#e31a1c" stroke="#000" stroke-width="0.85"/>
<circle cx="607.9" cy="118.8" r="3.4" fill="#e31a1c" stroke="#000" stroke-width="0.85"/>
<circle cx="607.9" cy="127.9" r="3.4" fill="#e31a1c" stroke="#000" stroke-width="0.85"/>
<circle cx="607.9" cy="131.8" r="3.4" fill="#e31a1c" stroke="#000" stroke-width="0.85"/>
<circle cx="607.9" cy="135.6" r="3.4" fill="#e31a1c" stroke="#000" stroke-width="0.85"/>
<circle cx="607.9" cy="140.8" r="3.4" fill="#e31a1c" stroke="#000" stroke-width="0.85"/>
<circle cx="607.9" cy="147.8" r="3.4" fill="#e31a1c" stroke="#000" stroke-width="0.85"/>
<circle cx="607.9" cy="151.2" r="3.4" fill="#e31a1c" stroke="#000" stroke-width="0.85"/>
<circle cx="607.9" cy="157.6" r="3.4" fill="#e31a1c" stroke="#000" stroke-width="0.85"/>
<circle cx="607.9" cy="164.1" r="3.4" fill="#e31a1c" stroke="#000" stroke-width="0.85"/>
<circle cx="607.9" cy="170.0" r="3.4" fill="#e31a1c" stroke="#000" stroke-width="0.85"/>
<circle cx="607.9" cy="176.3" r="3.4" fill="#e31a1c" stroke="#000" stroke-width="0.85"/>
<circle cx="607.9" cy="183.5" r="3.4" fill="#e31a1c" stroke="#000" stroke-width="0.85"/>
<circle cx="607.9" cy="190.0" r="3.4" fill="#e31a1c" stroke="#000" stroke-width="0.85"/>
<circle cx="607.9" cy="193.9" r="3.4" fill="#e31a1c" stroke="#000" stroke-width="0.85"/>
<circle cx="607.9" cy="198.2" r="3.4" fill="#e31a1c" stroke="#000" stroke-width="0.85"/>
<circle cx="653.9" cy="99.0" r="3.4" fill="#e31a1c" stroke="#000" stroke-width="0.85"/>
<circle cx="653.9" cy="102.3" r="3.4" fill="#e31a1c" stroke="#000" stroke-width="0.85"/>
<circle cx="653.9" cy="105.6" r="3.4" fill="#e31a1c" stroke="#000" stroke-width="0.85"/>
<circle cx="653.9" cy="108.9" r="3.4" fill="#e31a1c" stroke="#000" stroke-width="0.85"/>
<circle cx="653.9" cy="112.2" r="3.4" fill="#e31a1c" stroke="#000" stroke-width="0.85"/>
<circle cx="653.9" cy="115.5" r="3.4" fill="#e31a1c" stroke="#000" stroke-width="0.85"/>
<circle cx="653.9" cy="118.8" r="3.4" fill="#e31a1c" stroke="#000" stroke-width="0.85"/>
<circle cx="653.9" cy="122.1" r="3.4" fill="#e31a1c" stroke="#000" stroke-width="0.85"/>
<circle cx="653.9" cy="125.4" r="3.4" fill="#e31a1c" stroke="#000" stroke-width="0.85"/>
<circle cx="653.9" cy="128.7" r="3.4" fill="#e31a1c" stroke="#000" stroke-width="0.85"/>
<circle cx="653.9" cy="132.0" r="3.4" fill="#e31a1c" stroke="#000" stroke-width="0.85"/>
<circle cx="653.9" cy="135.3" r="3.4" fill="#e31a1c" stroke="#000" stroke-width="0.85"/>
<circle cx="653.9" cy="138.6" r="3.4" fill="#e31a1c" stroke="#000" stroke-width="0.85"/>
<circle cx="653.9" cy="141.9" r="3.4" fill="#e31a1c" stroke="#000" stroke-width="0.85"/>
<circle cx="653.9" cy="145.2" r="3.4" fill="#e31a1c" stroke="#000" stroke-width="0.85"/>
<circle cx="653.9" cy="148.5" r="3.4" fill="#e31a1c" stroke="#000" stroke-width="0.85"/>
<circle cx="653.9" cy="151.8" r="3.4" fill="#e31a1c" stroke="#000" stroke-width="0.85"/>
<circle cx="653.9" cy="155.1" r="3.4" fill="#e31a1c" stroke="#000" stroke-width="0.85"/>
<circle cx="653.9" cy="158.4" r="3.4" fill="#e31a1c" stroke="#000" stroke-width="0.85"/>
<circle cx="653.9" cy="161.7" r="3.4" fill="#e31a1c" stroke="#000" stroke-width="0.85"/>
<circle cx="653.9" cy="165.0" r="3.4" fill="#e31a1c" stroke="#000" stroke-width="0.85"/>
<circle cx="653.9" cy="165.0" r="3.4" fill="#e31a1c" stroke="#000" stroke-width="0.85"/>
<circle cx="653.9" cy="167.1" r="3.4" fill="#e31a1c" stroke="#000" stroke-width="0.85"/>
<circle cx="653.9" cy="169.2" r="3.4" fill="#e31a1c" stroke="#000" stroke-width="0.85"/>
<circle cx="653.9" cy="171.3" r="3.4" fill="#e31a1c" stroke="#000" stroke-width="0.85"/>
<circle cx="653.9" cy="173.4" r="3.4" fill="#e31a1c" stroke="#000" stroke-width="0.85"/>
<circle cx="653.9" cy="175.5" r="3.4" fill="#e31a1c" stroke="#000" stroke-width="0.85"/>
<circle cx="653.9" cy="177.6" r="3.4" fill="#e31a1c" stroke="#000" stroke-width="0.85"/>
<circle cx="653.9" cy="179.7" r="3.4" fill="#e31a1c" stroke="#000" stroke-width="0.85"/>
<circle cx="653.9" cy="181.8" r="3.4" fill="#e31a1c" stroke="#000" stroke-width="0.85"/>
<circle cx="653.9" cy="183.9" r="3.4" fill="#e31a1c" stroke="#000" stroke-width="0.85"/>
<circle cx="653.9" cy="186.0" r="3.4" fill="#e31a1c" stroke="#000" stroke-width="0.85"/>
<circle cx="653.9" cy="188.1" r="3.4" fill="#e31a1c" stroke="#000" stroke-width="0.85"/>
<circle cx="653.9" cy="190.2" r="3.4" fill="#e31a1c" stroke="#000" stroke-width="0.85"/>
<circle cx="653.9" cy="192.3" r="3.4" fill="#e31a1c" stroke="#000" stroke-width="0.85"/>
<circle cx="653.9" cy="194.4" r="3.4" fill="#e31a1c" stroke="#000" stroke-width="0.85"/>
<circle cx="653.9" cy="196.5" r="3.4" fill="#e31a1c" stroke="#000" stroke-width="0.85"/>
<circle cx="653.9" cy="57.1" r="3.4" fill="#e31a1c" stroke="#000" stroke-width="0.85"/>
<circle cx="653.9" cy="59.6" r="3.4" fill="#e31a1c" stroke="#000" stroke-width="0.85"/>
<circle cx="653.9" cy="83.9" r="3.4" fill="#e31a1c" stroke="#000" stroke-width="0.85"/>
<circle cx="653.9" cy="89.1" r="3.4" fill="#e31a1c" stroke="#000" stroke-width="0.85"/>
<circle cx="653.9" cy="98.6" r="3.4" fill="#e31a1c" stroke="#000" stroke-width="0.85"/>
<circle cx="653.9" cy="103.3" r="3.4" fill="#e31a1c" stroke="#000" stroke-width="0.85"/>
<circle cx="653.9" cy="108.5" r="3.4" fill="#e31a1c" stroke="#000" stroke-width="0.85"/>
<circle cx="653.9" cy="116.2" r="3.4" fill="#e31a1c" stroke="#000" stroke-width="0.85"/>
<circle cx="653.9" cy="121.4" r="3.4" fill="#e31a1c" stroke="#000" stroke-width="0.85"/>
<circle cx="653.9" cy="127.9" r="3.4" fill="#e31a1c" stroke="#000" stroke-width="0.85"/>
<circle cx="653.9" cy="134.3" r="3.4" fill="#e31a1c" stroke="#000" stroke-width="0.85"/>
<circle cx="653.9" cy="140.0" r="3.4" fill="#e31a1c" stroke="#000" stroke-width="0.85"/>
<circle cx="653.9" cy="147.8" r="3.4" fill="#e31a1c" stroke="#000" stroke-width="0.85"/>
<circle cx="653.9" cy="151.9" r="3.4" fill="#e31a1c" stroke="#000" stroke-width="0.85"/>
<circle cx="653.9" cy="157.1" r="3.4" fill="#e31a1c" stroke="#000" stroke-width="0.85"/>
<circle cx="653.9" cy="164.1" r="3.4" fill="#e31a1c" stroke="#000" stroke-width="0.85"/>
<circle cx="653.9" cy="176.3" r="3.4" fill="#e31a1c" stroke="#000" stroke-width="0.85"/>
<circle cx="653.9" cy="186.1" r="3.4" fill="#e31a1c" stroke="#000" stroke-width="0.85"/>
<circle cx="653.9" cy="191.3" r="3.4" fill="#e31a1c" stroke="#000" stroke-width="0.85"/>
<circle cx="653.9" cy="197.7" r="3.4" fill="#e31a1c" stroke="#000" stroke-width="0.85"/>
<rect x="556" y="15.05" width="99" height="1.0" fill="#000"/>
<text x="561.3" y="12.6" font-size="8" fill="#000">Tukey test, p&lt;2.2 × 10<tspan font-size="4.5" dy="-2.8">-16</tspan></text>
<rect x="556" y="32.4" width="52" height="1.0" fill="#000"/>
<text x="562.5" y="30.7" font-size="8" fill="#000">Tukey test, p&lt;2.2 × 10<tspan font-size="4.5" dy="-2.8">-10</tspan></text>
<rect x="533.1" y="263.9" width="1.75" height="173.2" fill="#000"/>
<rect x="533.1" y="435.85" width="151.9" height="1.3" fill="#000"/>
<rect x="529.9" y="264.00" width="3.5" height="1.3" fill="#000"/>
<text x="526.8" y="268.6" font-size="11.4" fill="#4d4d4d" text-anchor="end" style="font-family:'DejaVu Sans',sans-serif">1.2</text>
<rect x="529.9" y="305.10" width="3.5" height="1.3" fill="#000"/>
<text x="526.8" y="309.70000000000005" font-size="11.4" fill="#4d4d4d" text-anchor="end" style="font-family:'DejaVu Sans',sans-serif">0.9</text>
<rect x="529.9" y="346.10" width="3.5" height="1.3" fill="#000"/>
<text x="526.8" y="350.70000000000005" font-size="11.4" fill="#4d4d4d" text-anchor="end" style="font-family:'DejaVu Sans',sans-serif">0.6</text>
<rect x="529.9" y="387.10" width="3.5" height="1.3" fill="#000"/>
<text x="526.8" y="391.70000000000005" font-size="11.4" fill="#4d4d4d" text-anchor="end" style="font-family:'DejaVu Sans',sans-serif">0.3</text>
<rect x="529.9" y="428.10" width="3.5" height="1.3" fill="#000"/>
<text x="526.8" y="432.70000000000005" font-size="11.4" fill="#4d4d4d" text-anchor="end" style="font-family:'DejaVu Sans',sans-serif">0.0</text>
<rect x="561.85" y="436.5" width="1.1" height="3" fill="#000"/>
<text x="559.9" y="450.9" font-size="11" fill="#000" text-anchor="middle">control</text>
<text x="559.9" y="461.6" font-size="11" fill="#000" text-anchor="middle">(n=56)</text>
<rect x="608.95" y="436.5" width="1.1" height="3" fill="#000"/>
<text x="606.9" y="450.9" font-size="11" fill="#000" text-anchor="middle">UC</text>
<text x="606.9" y="461.6" font-size="11" fill="#000" text-anchor="middle">(n=76)</text>
<rect x="656.1500000000001" y="436.5" width="1.1" height="3" fill="#000"/>
<text x="652.4" y="450.9" font-size="11" fill="#000" text-anchor="middle">CD</text>
<text x="652.4" y="461.6" font-size="11" fill="#000" text-anchor="middle">(n=88)</text>
<text transform="translate(483.0,348.7) rotate(-90)" font-size="10" fill="#000" text-anchor="middle">% Abundace of engrafted genes</text>
<text transform="translate(493.4,352) rotate(-90)" font-size="10" fill="#000" text-anchor="middle">(reads/sample)</text>
<text x="474.6" y="254.0" font-size="13.2" font-weight="bold" fill="#000">D</text>
<line x1="562.4" y1="327.3" x2="562.4" y2="362.2" stroke="#2e2e2e" stroke-width="1.1"/>
<line x1="562.4" y1="393.3" x2="562.4" y2="420.0" stroke="#2e2e2e" stroke-width="1.1"/>
<rect x="544.4" y="362.2" width="36.0" height="31.10" fill="none" stroke="#2e2e2e" stroke-width="1.1"/>
<line x1="544.4" y1="379.4" x2="580.4" y2="379.4" stroke="#2e2e2e" stroke-width="2.1"/>
<line x1="609.5" y1="345.3" x2="609.5" y2="395.7" stroke="#2e2e2e" stroke-width="1.1"/>
<line x1="609.5" y1="418.5" x2="609.5" y2="428.0" stroke="#2e2e2e" stroke-width="1.1"/>
<rect x="591.6" y="395.7" width="35.8" height="22.80" fill="none" stroke="#2e2e2e" stroke-width="1.1"/>
<line x1="591.6" y1="410.2" x2="627.4" y2="410.2" stroke="#2e2e2e" stroke-width="2.1"/>
<line x1="656.7" y1="331.2" x2="656.7" y2="379.4" stroke="#2e2e2e" stroke-width="1.1"/>
<line x1="656.7" y1="420.0" x2="656.7" y2="428.3" stroke="#2e2e2e" stroke-width="1.1"/>
<rect x="639.1" y="379.4" width="35.2" height="40.60" fill="none" stroke="#2e2e2e" stroke-width="1.1"/>
<line x1="639.1" y1="411.1" x2="674.3000000000001" y2="411.1" stroke="#2e2e2e" stroke-width="2.1"/>
<circle cx="562.4" cy="346.0" r="3.4" fill="#1e9e48" stroke="#000" stroke-width="0.85"/>
<circle cx="562.4" cy="348.9" r="3.4" fill="#1e9e48" stroke="#000" stroke-width="0.85"/>
<circle cx="562.4" cy="351.8" r="3.4" fill="#1e9e48" stroke="#000" stroke-width="0.85"/>
<circle cx="562.4" cy="354.7" r="3.4" fill="#1e9e48" stroke="#000" stroke-width="0.85"/>
<circle cx="562.4" cy="357.6" r="3.4" fill="#1e9e48" stroke="#000" stroke-width="0.85"/>
<circle cx="562.4" cy="360.5" r="3.4" fill="#1e9e48" stroke="#000" stroke-width="0.85"/>
<circle cx="562.4" cy="363.4" r="3.4" fill="#1e9e48" stroke="#000" stroke-width="0.85"/>
<circle cx="562.4" cy="366.3" r="3.4" fill="#1e9e48" stroke="#000" stroke-width="0.85"/>
<circle cx="562.4" cy="369.2" r="3.4" fill="#1e9e48" stroke="#000" stroke-width="0.85"/>
<circle cx="562.4" cy="372.1" r="3.4" fill="#1e9e48" stroke="#000" stroke-width="0.85"/>
<circle cx="562.4" cy="375.0" r="3.4" fill="#1e9e48" stroke="#000" stroke-width="0.85"/>
<circle cx="562.4" cy="377.9" r="3.4" fill="#1e9e48" stroke="#000" stroke-width="0.85"/>
<circle cx="562.4" cy="380.8" r="3.4" fill="#1e9e48" stroke="#000" stroke-width="0.85"/>
<circle cx="562.4" cy="383.7" r="3.4" fill="#1e9e48" stroke="#000" stroke-width="0.85"/>
<circle cx="562.4" cy="386.6" r="3.4" fill="#1e9e48" stroke="#000" stroke-width="0.85"/>
<circle cx="562.4" cy="389.5" r="3.4" fill="#1e9e48" stroke="#000" stroke-width="0.85"/>
<circle cx="562.4" cy="392.4" r="3.4" fill="#1e9e48" stroke="#000" stroke-width="0.85"/>
<circle cx="562.4" cy="395.3" r="3.4" fill="#1e9e48" stroke="#000" stroke-width="0.85"/>
<circle cx="562.4" cy="398.2" r="3.4" fill="#1e9e48" stroke="#000" stroke-width="0.85"/>
<circle cx="562.4" cy="401.1" r="3.4" fill="#1e9e48" stroke="#000" stroke-width="0.85"/>
<circle cx="562.4" cy="404.0" r="3.4" fill="#1e9e48" stroke="#000" stroke-width="0.85"/>
<circle cx="562.4" cy="406.9" r="3.4" fill="#1e9e48" stroke="#000" stroke-width="0.85"/>
<circle cx="562.4" cy="409.8" r="3.4" fill="#1e9e48" stroke="#000" stroke-width="0.85"/>
<circle cx="562.4" cy="327.4" r="3.4" fill="#1e9e48" stroke="#000" stroke-width="0.85"/>
<circle cx="562.4" cy="336.1" r="3.4" fill="#1e9e48" stroke="#000" stroke-width="0.85"/>
<circle cx="562.4" cy="346.1" r="3.4" fill="#1e9e48" stroke="#000" stroke-width="0.85"/>
<circle cx="562.4" cy="352.3" r="3.4" fill="#1e9e48" stroke="#000" stroke-width="0.85"/>
<circle cx="562.4" cy="358.5" r="3.4" fill="#1e9e48" stroke="#000" stroke-width="0.85"/>
<circle cx="562.4" cy="364.7" r="3.4" fill="#1e9e48" stroke="#000" stroke-width="0.85"/>
<circle cx="562.4" cy="369.6" r="3.4" fill="#1e9e48" stroke="#000" stroke-width="0.85"/>
<circle cx="562.4" cy="378.8" r="3.4" fill="#1e9e48" stroke="#000" stroke-width="0.85"/>
<circle cx="562.4" cy="385.0" r="3.4" fill="#1e9e48" stroke="#000" stroke-width="0.85"/>
<circle cx="562.4" cy="392.5" r="3.4" fill="#1e9e48" stroke="#000" stroke-width="0.85"/>
<circle cx="562.4" cy="400.7" r="3.4" fill="#1e9e48" stroke="#000" stroke-width="0.85"/>
<circle cx="562.4" cy="407.4" r="3.4" fill="#1e9e48" stroke="#000" stroke-width="0.85"/>
<circle cx="562.4" cy="412.3" r="3.4" fill="#1e9e48" stroke="#000" stroke-width="0.85"/>
<circle cx="562.4" cy="420.0" r="3.4" fill="#1e9e48" stroke="#000" stroke-width="0.85"/>
<circle cx="609.5" cy="346.0" r="3.4" fill="#e31a1c" stroke="#000" stroke-width="0.85"/>
<circle cx="609.5" cy="349.2" r="3.4" fill="#e31a1c" stroke="#000" stroke-width="0.85"/>
<circle cx="609.5" cy="352.4" r="3.4" fill="#e31a1c" stroke="#000" stroke-width="0.85"/>
<circle cx="609.5" cy="355.6" r="3.4" fill="#e31a1c" stroke="#000" stroke-width="0.85"/>
<circle cx="609.5" cy="358.8" r="3.4" fill="#e31a1c" stroke="#000" stroke-width="0.85"/>
<circle cx="609.5" cy="362.0" r="3.4" fill="#e31a1c" stroke="#000" stroke-width="0.85"/>
<circle cx="609.5" cy="365.2" r="3.4" fill="#e31a1c" stroke="#000" stroke-width="0.85"/>
<circle cx="609.5" cy="368.4" r="3.4" fill="#e31a1c" stroke="#000" stroke-width="0.85"/>
<circle cx="609.5" cy="371.6" r="3.4" fill="#e31a1c" stroke="#000" stroke-width="0.85"/>
<circle cx="609.5" cy="374.8" r="3.4" fill="#e31a1c" stroke="#000" stroke-width="0.85"/>
<circle cx="609.5" cy="378.0" r="3.4" fill="#e31a1c" stroke="#000" stroke-width="0.85"/>
<circle cx="609.5" cy="384.0" r="3.4" fill="#e31a1c" stroke="#000" stroke-width="0.85"/>
<circle cx="609.5" cy="386.6" r="3.4" fill="#e31a1c" stroke="#000" stroke-width="0.85"/>
<circle cx="609.5" cy="389.2" r="3.4" fill="#e31a1c" stroke="#000" stroke-width="0.85"/>
<circle cx="609.5" cy="391.8" r="3.4" fill="#e31a1c" stroke="#000" stroke-width="0.85"/>
<circle cx="609.5" cy="394.4" r="3.4" fill="#e31a1c" stroke="#000" stroke-width="0.85"/>
<circle cx="609.5" cy="397.0" r="3.4" fill="#e31a1c" stroke="#000" stroke-width="0.85"/>
<circle cx="609.5" cy="399.6" r="3.4" fill="#e31a1c" stroke="#000" stroke-width="0.85"/>
<circle cx="609.5" cy="402.2" r="3.4" fill="#e31a1c" stroke="#000" stroke-width="0.85"/>
<circle cx="609.5" cy="404.8" r="3.4" fill="#e31a1c" stroke="#000" stroke-width="0.85"/>
<circle cx="609.5" cy="407.4" r="3.4" fill="#e31a1c" stroke="#000" stroke-width="0.85"/>
<circle cx="609.5" cy="410.0" r="3.4" fill="#e31a1c" stroke="#000" stroke-width="0.85"/>
<circle cx="609.5" cy="412.6" r="3.4" fill="#e31a1c" stroke="#000" stroke-width="0.85"/>
<circle cx="609.5" cy="415.2" r="3.4" fill="#e31a1c" stroke="#000" stroke-width="0.85"/>
<circle cx="609.5" cy="417.8" r="3.4" fill="#e31a1c" stroke="#000" stroke-width="0.85"/>
<circle cx="609.5" cy="420.4" r="3.4" fill="#e31a1c" stroke="#000" stroke-width="0.85"/>
<circle cx="609.5" cy="423.0" r="3.4" fill="#e31a1c" stroke="#000" stroke-width="0.85"/>
<circle cx="609.5" cy="425.6" r="3.4" fill="#e31a1c" stroke="#000" stroke-width="0.85"/>
<circle cx="609.5" cy="345.6" r="3.4" fill="#e31a1c" stroke="#000" stroke-width="0.85"/>
<circle cx="609.5" cy="351.0" r="3.4" fill="#e31a1c" stroke="#000" stroke-width="0.85"/>
<circle cx="609.5" cy="355.5" r="3.4" fill="#e31a1c" stroke="#000" stroke-width="0.85"/>
<circle cx="609.5" cy="361.0" r="3.4" fill="#e31a1c" stroke="#000" stroke-width="0.85"/>
<circle cx="609.5" cy="367.2" r="3.4" fill="#e31a1c" stroke="#000" stroke-width="0.85"/>
<circle cx="609.5" cy="373.4" r="3.4" fill="#e31a1c" stroke="#000" stroke-width="0.85"/>
<circle cx="609.5" cy="378.3" r="3.4" fill="#e31a1c" stroke="#000" stroke-width="0.85"/>
<circle cx="609.5" cy="387.0" r="3.4" fill="#e31a1c" stroke="#000" stroke-width="0.85"/>
<circle cx="609.5" cy="392.5" r="3.4" fill="#e31a1c" stroke="#000" stroke-width="0.85"/>
<circle cx="609.5" cy="399.4" r="3.4" fill="#e31a1c" stroke="#000" stroke-width="0.85"/>
<circle cx="609.5" cy="405.6" r="3.4" fill="#e31a1c" stroke="#000" stroke-width="0.85"/>
<circle cx="609.5" cy="411.8" r="3.4" fill="#e31a1c" stroke="#000" stroke-width="0.85"/>
<circle cx="609.5" cy="418.0" r="3.4" fill="#e31a1c" stroke="#000" stroke-width="0.85"/>
<circle cx="609.5" cy="423.0" r="3.4" fill="#e31a1c" stroke="#000" stroke-width="0.85"/>
<circle cx="609.5" cy="428.0" r="3.4" fill="#e31a1c" stroke="#000" stroke-width="0.85"/>
<circle cx="656.7" cy="345.0" r="3.4" fill="#e31a1c" stroke="#000" stroke-width="0.85"/>
<circle cx="656.7" cy="348.0" r="3.4" fill="#e31a1c" stroke="#000" stroke-width="0.85"/>
<circle cx="656.7" cy="351.0" r="3.4" fill="#e31a1c" stroke="#000" stroke-width="0.85"/>
<circle cx="656.7" cy="354.0" r="3.4" fill="#e31a1c" stroke="#000" stroke-width="0.85"/>
<circle cx="656.7" cy="357.0" r="3.4" fill="#e31a1c" stroke="#000" stroke-width="0.85"/>
<circle cx="656.7" cy="367.5" r="3.4" fill="#e31a1c" stroke="#000" stroke-width="0.85"/>
<circle cx="656.7" cy="373.5" r="3.4" fill="#e31a1c" stroke="#000" stroke-width="0.85"/>
<circle cx="656.7" cy="379.0" r="3.4" fill="#e31a1c" stroke="#000" stroke-width="0.85"/>
<circle cx="656.7" cy="381.5" r="3.4" fill="#e31a1c" stroke="#000" stroke-width="0.85"/>
<circle cx="656.7" cy="384.0" r="3.4" fill="#e31a1c" stroke="#000" stroke-width="0.85"/>
<circle cx="656.7" cy="386.5" r="3.4" fill="#e31a1c" stroke="#000" stroke-width="0.85"/>
<circle cx="656.7" cy="389.0" r="3.4" fill="#e31a1c" stroke="#000" stroke-width="0.85"/>
<circle cx="656.7" cy="391.5" r="3.4" fill="#e31a1c" stroke="#000" stroke-width="0.85"/>
<circle cx="656.7" cy="394.0" r="3.4" fill="#e31a1c" stroke="#000" stroke-width="0.85"/>
<circle cx="656.7" cy="396.5" r="3.4" fill="#e31a1c" stroke="#000" stroke-width="0.85"/>
<circle cx="656.7" cy="399.0" r="3.4" fill="#e31a1c" stroke="#000" stroke-width="0.85"/>
<circle cx="656.7" cy="401.5" r="3.4" fill="#e31a1c" stroke="#000" stroke-width="0.85"/>
<circle cx="656.7" cy="404.0" r="3.4" fill="#e31a1c" stroke="#000" stroke-width="0.85"/>
<circle cx="656.7" cy="406.5" r="3.4" fill="#e31a1c" stroke="#000" stroke-width="0.85"/>
<circle cx="656.7" cy="409.0" r="3.4" fill="#e31a1c" stroke="#000" stroke-width="0.85"/>
<circle cx="656.7" cy="411.5" r="3.4" fill="#e31a1c" stroke="#000" stroke-width="0.85"/>
<circle cx="656.7" cy="414.0" r="3.4" fill="#e31a1c" stroke="#000" stroke-width="0.85"/>
<circle cx="656.7" cy="416.5" r="3.4" fill="#e31a1c" stroke="#000" stroke-width="0.85"/>
<circle cx="656.7" cy="419.0" r="3.4" fill="#e31a1c" stroke="#000" stroke-width="0.85"/>
<circle cx="656.7" cy="421.5" r="3.4" fill="#e31a1c" stroke="#000" stroke-width="0.85"/>
<circle cx="656.7" cy="424.0" r="3.4" fill="#e31a1c" stroke="#000" stroke-width="0.85"/>
<circle cx="656.7" cy="426.5" r="3.4" fill="#e31a1c" stroke="#000" stroke-width="0.85"/>
<circle cx="656.7" cy="271.0" r="3.4" fill="#e31a1c" stroke="#000" stroke-width="0.85"/>
<circle cx="656.7" cy="303.1" r="3.4" fill="#e31a1c" stroke="#000" stroke-width="0.85"/>
<circle cx="656.7" cy="314.3" r="3.4" fill="#e31a1c" stroke="#000" stroke-width="0.85"/>
<circle cx="656.7" cy="317.4" r="3.4" fill="#e31a1c" stroke="#000" stroke-width="0.85"/>
<circle cx="656.7" cy="331.2" r="3.4" fill="#e31a1c" stroke="#000" stroke-width="0.85"/>
<circle cx="656.7" cy="334.9" r="3.4" fill="#e31a1c" stroke="#000" stroke-width="0.85"/>
<circle cx="656.7" cy="344.8" r="3.4" fill="#e31a1c" stroke="#000" stroke-width="0.85"/>
<circle cx="656.7" cy="351.0" r="3.4" fill="#e31a1c" stroke="#000" stroke-width="0.85"/>
<circle cx="656.7" cy="356.0" r="3.4" fill="#e31a1c" stroke="#000" stroke-width="0.85"/>
<circle cx="656.7" cy="370.9" r="3.4" fill="#e31a1c" stroke="#000" stroke-width="0.85"/>
<circle cx="656.7" cy="380.8" r="3.4" fill="#e31a1c" stroke="#000" stroke-width="0.85"/>
<circle cx="656.7" cy="387.0" r="3.4" fill="#e31a1c" stroke="#000" stroke-width="0.85"/>
<circle cx="656.7" cy="393.2" r="3.4" fill="#e31a1c" stroke="#000" stroke-width="0.85"/>
<circle cx="656.7" cy="399.4" r="3.4" fill="#e31a1c" stroke="#000" stroke-width="0.85"/>
<circle cx="656.7" cy="405.6" r="3.4" fill="#e31a1c" stroke="#000" stroke-width="0.85"/>
<circle cx="656.7" cy="413.1" r="3.4" fill="#e31a1c" stroke="#000" stroke-width="0.85"/>
<circle cx="656.7" cy="419.3" r="3.4" fill="#e31a1c" stroke="#000" stroke-width="0.85"/>
<circle cx="656.7" cy="424.2" r="3.4" fill="#e31a1c" stroke="#000" stroke-width="0.85"/>
<circle cx="656.7" cy="428.0" r="3.4" fill="#e31a1c" stroke="#000" stroke-width="0.85"/>
<rect x="553.3" y="289.9" width="99.4" height="1.0" fill="#000"/>
<text x="559.1" y="286.9" font-size="8" fill="#000">Tukey test, p=0.0013</text>
<rect x="553.3" y="307.8" width="52.4" height="1.0" fill="#000"/>
<text x="560.5" y="305.6" font-size="8" fill="#000">Tukey test, p&lt;2.2 × 10<tspan font-size="4.5" dy="-2.8">-16</tspan></text>
</g>
</svg>
</body>
</html>
